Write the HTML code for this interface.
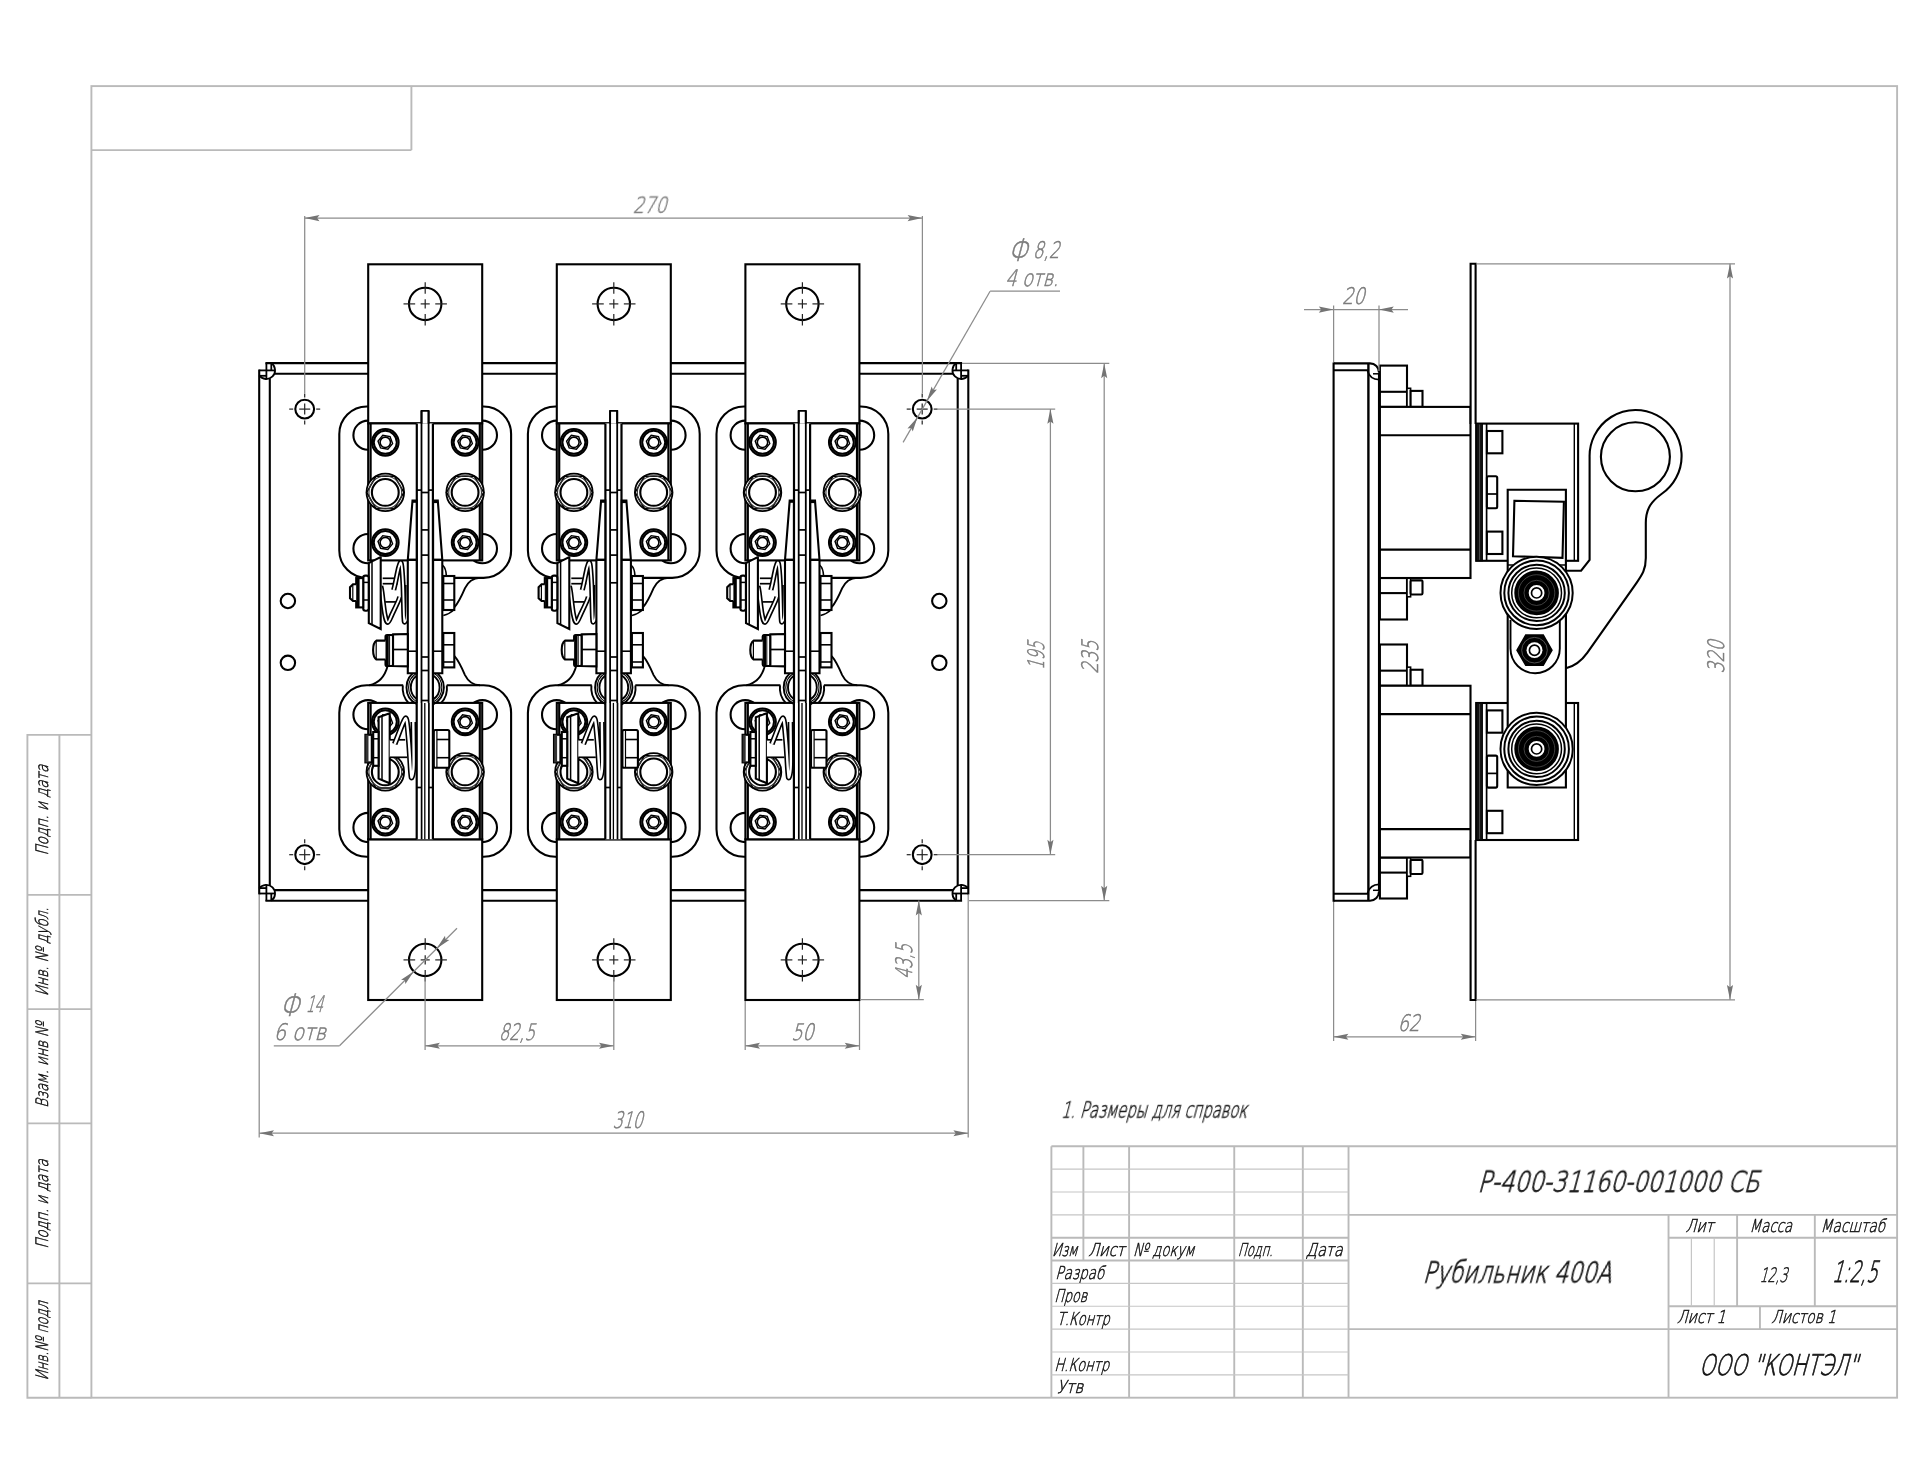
<!DOCTYPE html>
<html lang="ru"><head><meta charset="utf-8"><title>Р-400-31160-001000 СБ</title>
<style>
html,body{margin:0;padding:0;background:#fff;}
body{width:1920px;height:1484px;overflow:hidden;}
svg{display:block;}
svg g.t{will-change:transform;}
svg text{font-family:"DejaVu Sans","Liberation Sans",sans-serif;font-weight:200;white-space:pre;}
</style></head><body>
<svg width="1920" height="1484" viewBox="0 0 1920 1484">
<rect x="0" y="0" width="1920" height="1484" fill="#fff"/>
<g id="frame">
<rect x="91.4" y="86.1" width="1805.7" height="1311.6" rx="0" stroke="#bababa" stroke-width="1.9" fill="none"/>
<line x1="91.4" y1="150.1" x2="411.4" y2="150.1" stroke="#bababa" stroke-width="1.9" />
<line x1="411.4" y1="86.1" x2="411.4" y2="150.1" stroke="#bababa" stroke-width="1.9" />
<path d="M91.4,734.85 H27.4 V1397.7 H91.4" stroke="#bababa" stroke-width="1.9" fill="none" />
<line x1="59.4" y1="734.85" x2="59.4" y2="1397.7" stroke="#bababa" stroke-width="1.9" />
<line x1="27.4" y1="894.85" x2="91.4" y2="894.85" stroke="#bababa" stroke-width="1.9" />
<line x1="27.4" y1="1009.13" x2="91.4" y2="1009.13" stroke="#bababa" stroke-width="1.9" />
<line x1="27.4" y1="1123.42" x2="91.4" y2="1123.42" stroke="#bababa" stroke-width="1.9" />
<line x1="27.4" y1="1283.41" x2="91.4" y2="1283.41" stroke="#bababa" stroke-width="1.9" />
<line x1="1051.39" y1="1146.27" x2="1897.1" y2="1146.27" stroke="#bababa" stroke-width="1.9" />
<line x1="1051.39" y1="1146.27" x2="1051.39" y2="1397.7" stroke="#bababa" stroke-width="1.9" />
<line x1="1083.39" y1="1146.27" x2="1083.39" y2="1260.56" stroke="#bababa" stroke-width="1.9" />
<line x1="1129.1" y1="1146.27" x2="1129.1" y2="1397.7" stroke="#bababa" stroke-width="1.9" />
<line x1="1234.25" y1="1146.27" x2="1234.25" y2="1397.7" stroke="#bababa" stroke-width="1.9" />
<line x1="1302.82" y1="1146.27" x2="1302.82" y2="1397.7" stroke="#bababa" stroke-width="1.9" />
<line x1="1348.53" y1="1146.27" x2="1348.53" y2="1397.7" stroke="#bababa" stroke-width="1.9" />
<line x1="1668.53" y1="1214.84" x2="1668.53" y2="1397.7" stroke="#bababa" stroke-width="1.9" />
<line x1="1051.39" y1="1169.13" x2="1348.53" y2="1169.13" stroke="#c6c6c6" stroke-width="1.2" />
<line x1="1051.39" y1="1191.99" x2="1348.53" y2="1191.99" stroke="#c6c6c6" stroke-width="1.2" />
<line x1="1051.39" y1="1214.84" x2="1348.53" y2="1214.84" stroke="#c6c6c6" stroke-width="1.2" />
<line x1="1051.39" y1="1237.7" x2="1348.53" y2="1237.7" stroke="#bababa" stroke-width="1.9" />
<line x1="1051.39" y1="1260.56" x2="1348.53" y2="1260.56" stroke="#bababa" stroke-width="1.9" />
<line x1="1051.39" y1="1283.42" x2="1348.53" y2="1283.42" stroke="#c6c6c6" stroke-width="1.2" />
<line x1="1051.39" y1="1306.27" x2="1348.53" y2="1306.27" stroke="#c6c6c6" stroke-width="1.2" />
<line x1="1051.39" y1="1329.13" x2="1348.53" y2="1329.13" stroke="#c6c6c6" stroke-width="1.2" />
<line x1="1051.39" y1="1351.99" x2="1348.53" y2="1351.99" stroke="#c6c6c6" stroke-width="1.2" />
<line x1="1051.39" y1="1374.84" x2="1348.53" y2="1374.84" stroke="#c6c6c6" stroke-width="1.2" />
<line x1="1348.53" y1="1214.84" x2="1897.1" y2="1214.84" stroke="#bababa" stroke-width="1.9" />
<line x1="1348.53" y1="1329.13" x2="1897.1" y2="1329.13" stroke="#bababa" stroke-width="1.9" />
<line x1="1668.53" y1="1237.7" x2="1897.1" y2="1237.7" stroke="#bababa" stroke-width="1.9" />
<line x1="1668.53" y1="1306.27" x2="1897.1" y2="1306.27" stroke="#bababa" stroke-width="1.9" />
<line x1="1737.1" y1="1214.84" x2="1737.1" y2="1306.27" stroke="#bababa" stroke-width="1.9" />
<line x1="1814.81" y1="1214.84" x2="1814.81" y2="1306.27" stroke="#bababa" stroke-width="1.9" />
<line x1="1691.39" y1="1237.7" x2="1691.39" y2="1306.27" stroke="#c6c6c6" stroke-width="1.2" />
<line x1="1714.24" y1="1237.7" x2="1714.24" y2="1306.27" stroke="#c6c6c6" stroke-width="1.2" />
<line x1="1759.96" y1="1306.27" x2="1759.96" y2="1329.13" stroke="#bababa" stroke-width="1.9" />
</g>
<g id="tbtext" class="t">
<text transform="translate(1051.96 1255.5) skewX(-15) scale(0.7030 1)" font-size="17.7" fill="#141414" stroke="#141414" stroke-width="0.52">Изм</text>
<text transform="translate(1088.16 1255.5) skewX(-15) scale(0.8197 1)" font-size="17.7" fill="#141414" stroke="#141414" stroke-width="0.52">Лист</text>
<text transform="translate(1133.06 1255.5) skewX(-15) scale(0.7364 1)" font-size="17.7" fill="#141414" stroke="#141414" stroke-width="0.52">№ докум</text>
<text transform="translate(1237.76 1255.5) skewX(-15) scale(0.6565 1)" font-size="17.7" fill="#141414" stroke="#141414" stroke-width="0.52">Подп.</text>
<text transform="translate(1305.76 1255.5) skewX(-15) scale(0.8153 1)" font-size="17.7" fill="#141414" stroke="#141414" stroke-width="0.52">Дата</text>
<text transform="translate(1055.36 1279.1) skewX(-15) scale(0.7580 1)" font-size="17.7" fill="#141414" stroke="#141414" stroke-width="0.52">Разраб</text>
<text transform="translate(1054.26 1302.1) skewX(-15) scale(0.7128 1)" font-size="17.7" fill="#141414" stroke="#141414" stroke-width="0.52">Пров</text>
<text transform="translate(1056.66 1324.7) skewX(-15) scale(0.7378 1)" font-size="17.7" fill="#141414" stroke="#141414" stroke-width="0.52">Т.Контр</text>
<text transform="translate(1054.26 1370.6) skewX(-15) scale(0.7372 1)" font-size="17.7" fill="#141414" stroke="#141414" stroke-width="0.52">Н.Контр</text>
<text transform="translate(1056.66 1392.6) skewX(-15) scale(0.8553 1)" font-size="17.7" fill="#141414" stroke="#141414" stroke-width="0.52">Утв</text>
<text transform="translate(1477.55 1191.9) skewX(-15) scale(0.7844 1)" font-size="29.22" fill="#141414" stroke="#141414" stroke-width="0.82">Р-400-31160-001000 СБ</text>
<text transform="translate(1422.55 1282.6) skewX(-15) scale(0.7592 1)" font-size="29.22" fill="#141414" stroke="#141414" stroke-width="0.82">Рубильник 400А</text>
<text transform="translate(1685.56 1232.1) skewX(-15) scale(0.8017 1)" font-size="17.7" fill="#141414" stroke="#141414" stroke-width="0.52">Лит</text>
<text transform="translate(1749.56 1232.1) skewX(-15) scale(0.7498 1)" font-size="17.7" fill="#141414" stroke="#141414" stroke-width="0.52">Масса</text>
<text transform="translate(1820.56 1232.1) skewX(-15) scale(0.7718 1)" font-size="17.7" fill="#141414" stroke="#141414" stroke-width="0.52">Масштаб</text>
<text transform="translate(1759.4 1281.9) skewX(-15) scale(0.6277 1)" font-size="19.89" fill="#141414" stroke="#141414" stroke-width="0.52">12,3</text>
<text transform="translate(1831.85 1282) skewX(-15) scale(0.6048 1)" font-size="29.22" fill="#141414" stroke="#141414" stroke-width="0.82">1:2,5</text>
<text transform="translate(1677.06 1323.3) skewX(-15) scale(0.7897 1)" font-size="17.7" fill="#141414" stroke="#141414" stroke-width="0.52">Лист 1</text>
<text transform="translate(1771.36 1323.3) skewX(-15) scale(0.7796 1)" font-size="17.7" fill="#141414" stroke="#141414" stroke-width="0.52">Листов 1</text>
<text transform="translate(1699 1374.7) skewX(-15) scale(0.7060 1)" font-size="28.53" fill="#141414" stroke="#141414" stroke-width="0.82">ООО "КОНТЭЛ"</text>
<text transform="translate(1060.94 1117.5) skewX(-15) scale(0.6651 1)" font-size="22.22" fill="#141414" stroke="#141414" stroke-width="0.56">1. Размеры для справок</text>
<text transform="translate(47.7 855.6) rotate(-90) skewX(-15) scale(0.7835 1)" font-size="17.15" fill="#141414" stroke="#141414" stroke-width="0.52">Подп. и дата</text>
<text transform="translate(47.7 996) rotate(-90) skewX(-15) scale(0.7426 1)" font-size="17.15" fill="#141414" stroke="#141414" stroke-width="0.52">Инв. № дубл.</text>
<text transform="translate(47.7 1107.7) rotate(-90) skewX(-15) scale(0.7606 1)" font-size="17.15" fill="#141414" stroke="#141414" stroke-width="0.52">Взам. инв №</text>
<text transform="translate(47.7 1248.7) rotate(-90) skewX(-15) scale(0.7705 1)" font-size="17.15" fill="#141414" stroke="#141414" stroke-width="0.52">Подп. и дата</text>
<text transform="translate(47.7 1380.3) rotate(-90) skewX(-15) scale(0.7197 1)" font-size="17.15" fill="#141414" stroke="#141414" stroke-width="0.52">Инв.№ подл</text>
</g>
<g id="front" stroke-linecap="butt" stroke-linejoin="miter">
<line x1="266.4" y1="363.1" x2="266.4" y2="379.1" stroke="#000" stroke-width="1.8" />
<line x1="271.3" y1="363.1" x2="271.3" y2="370.4" stroke="#000" stroke-width="1.8" />
<line x1="259.2" y1="370.4" x2="275.15" y2="370.4" stroke="#000" stroke-width="1.8" />
<line x1="259.2" y1="375.8" x2="266.4" y2="375.8" stroke="#000" stroke-width="1.8" />
<path d="M271.3,363.1 A8.75,8.75 0 1 1 259.2,375.4" stroke="#000" stroke-width="1.8" fill="none" />
<line x1="266.4" y1="900.8" x2="266.4" y2="884.8" stroke="#000" stroke-width="1.8" />
<line x1="271.3" y1="900.8" x2="271.3" y2="893.5" stroke="#000" stroke-width="1.8" />
<line x1="259.2" y1="893.5" x2="275.15" y2="893.5" stroke="#000" stroke-width="1.8" />
<line x1="259.2" y1="888.1" x2="266.4" y2="888.1" stroke="#000" stroke-width="1.8" />
<path d="M271.3,900.8 A8.75,8.75 0 1 0 259.2,888.5" stroke="#000" stroke-width="1.8" fill="none" />
<line x1="961.1" y1="363.1" x2="961.1" y2="379.1" stroke="#000" stroke-width="1.8" />
<line x1="956.2" y1="363.1" x2="956.2" y2="370.4" stroke="#000" stroke-width="1.8" />
<line x1="968.3" y1="370.4" x2="952.35" y2="370.4" stroke="#000" stroke-width="1.8" />
<line x1="968.3" y1="375.8" x2="961.1" y2="375.8" stroke="#000" stroke-width="1.8" />
<path d="M956.2,363.1 A8.75,8.75 0 1 0 968.3,375.4" stroke="#000" stroke-width="1.8" fill="none" />
<line x1="961.1" y1="900.8" x2="961.1" y2="884.8" stroke="#000" stroke-width="1.8" />
<line x1="956.2" y1="900.8" x2="956.2" y2="893.5" stroke="#000" stroke-width="1.8" />
<line x1="968.3" y1="893.5" x2="952.35" y2="893.5" stroke="#000" stroke-width="1.8" />
<line x1="968.3" y1="888.1" x2="961.1" y2="888.1" stroke="#000" stroke-width="1.8" />
<path d="M956.2,900.8 A8.75,8.75 0 1 1 968.3,888.5" stroke="#000" stroke-width="1.8" fill="none" />
<line x1="265.4" y1="363.1" x2="962.1" y2="363.1" stroke="#000" stroke-width="2.1" />
<line x1="265.4" y1="900.8" x2="962.1" y2="900.8" stroke="#000" stroke-width="2.1" />
<line x1="259.2" y1="369.4" x2="259.2" y2="894.5" stroke="#000" stroke-width="2.1" />
<line x1="968.3" y1="369.4" x2="968.3" y2="894.5" stroke="#000" stroke-width="2.1" />
<line x1="274.5" y1="373.75" x2="953" y2="373.75" stroke="#000" stroke-width="2.1" />
<line x1="274.5" y1="890.15" x2="953" y2="890.15" stroke="#000" stroke-width="2.1" />
<line x1="269.8" y1="378.5" x2="269.8" y2="885.4" stroke="#000" stroke-width="2.1" />
<line x1="957.7" y1="378.5" x2="957.7" y2="885.4" stroke="#000" stroke-width="2.1" />
<circle cx="304.7" cy="409.1" r="9.4" stroke="#000" stroke-width="2.1" fill="none"/>
<line x1="299.2" y1="409.1" x2="310.2" y2="409.1" stroke="#222" stroke-width="1.2" />
<line x1="304.7" y1="403.6" x2="304.7" y2="414.6" stroke="#222" stroke-width="1.2" />
<line x1="289.2" y1="409.1" x2="293.2" y2="409.1" stroke="#222" stroke-width="1.2" />
<line x1="316.2" y1="409.1" x2="320.2" y2="409.1" stroke="#222" stroke-width="1.2" />
<line x1="304.7" y1="393.6" x2="304.7" y2="397.6" stroke="#222" stroke-width="1.2" />
<line x1="304.7" y1="420.6" x2="304.7" y2="424.6" stroke="#222" stroke-width="1.2" />
<circle cx="922.2" cy="409.1" r="9.4" stroke="#000" stroke-width="2.1" fill="none"/>
<line x1="916.7" y1="409.1" x2="927.7" y2="409.1" stroke="#222" stroke-width="1.2" />
<line x1="922.2" y1="403.6" x2="922.2" y2="414.6" stroke="#222" stroke-width="1.2" />
<line x1="906.7" y1="409.1" x2="910.7" y2="409.1" stroke="#222" stroke-width="1.2" />
<line x1="933.7" y1="409.1" x2="937.7" y2="409.1" stroke="#222" stroke-width="1.2" />
<line x1="922.2" y1="393.6" x2="922.2" y2="397.6" stroke="#222" stroke-width="1.2" />
<line x1="922.2" y1="420.6" x2="922.2" y2="424.6" stroke="#222" stroke-width="1.2" />
<circle cx="304.7" cy="854.7" r="9.4" stroke="#000" stroke-width="2.1" fill="none"/>
<line x1="299.2" y1="854.7" x2="310.2" y2="854.7" stroke="#222" stroke-width="1.2" />
<line x1="304.7" y1="849.2" x2="304.7" y2="860.2" stroke="#222" stroke-width="1.2" />
<line x1="289.2" y1="854.7" x2="293.2" y2="854.7" stroke="#222" stroke-width="1.2" />
<line x1="316.2" y1="854.7" x2="320.2" y2="854.7" stroke="#222" stroke-width="1.2" />
<line x1="304.7" y1="839.2" x2="304.7" y2="843.2" stroke="#222" stroke-width="1.2" />
<line x1="304.7" y1="866.2" x2="304.7" y2="870.2" stroke="#222" stroke-width="1.2" />
<circle cx="922.2" cy="854.7" r="9.4" stroke="#000" stroke-width="2.1" fill="none"/>
<line x1="916.7" y1="854.7" x2="927.7" y2="854.7" stroke="#222" stroke-width="1.2" />
<line x1="922.2" y1="849.2" x2="922.2" y2="860.2" stroke="#222" stroke-width="1.2" />
<line x1="906.7" y1="854.7" x2="910.7" y2="854.7" stroke="#222" stroke-width="1.2" />
<line x1="933.7" y1="854.7" x2="937.7" y2="854.7" stroke="#222" stroke-width="1.2" />
<line x1="922.2" y1="839.2" x2="922.2" y2="843.2" stroke="#222" stroke-width="1.2" />
<line x1="922.2" y1="866.2" x2="922.2" y2="870.2" stroke="#222" stroke-width="1.2" />
<circle cx="287.9" cy="601" r="7.2" stroke="#000" stroke-width="2.1" fill="none"/>
<circle cx="287.9" cy="662.8" r="7.2" stroke="#000" stroke-width="2.1" fill="none"/>
<circle cx="939.3" cy="601" r="7.2" stroke="#000" stroke-width="2.1" fill="none"/>
<circle cx="939.3" cy="662.8" r="7.2" stroke="#000" stroke-width="2.1" fill="none"/>
<path d="M367.7,577.9 H366.8 A27.5,27.5 0 0 1 339.3,550.4 V434 A27.5,27.5 0 0 1 366.8,406.5 H483.6 A27.5,27.5 0 0 1 511.1,434 V550.4 A27.5,27.5 0 0 1 483.6,577.9 H454.5" stroke="#000" stroke-width="2.1" fill="none" />
<path d="M480,577.9 C472,578.1 468,582.1 465,588.1 C462,595.1 459,602.1 454.5,607.1" stroke="#000" stroke-width="1.9" fill="none" />
<path d="M403.2,685.3 H366.8 A27.5,27.5 0 0 0 339.3,712.8 V829.2 A27.5,27.5 0 0 0 366.8,856.7 H483.6 A27.5,27.5 0 0 0 511.1,829.2 V712.8 A27.5,27.5 0 0 0 483.6,685.3 H446.7" stroke="#000" stroke-width="2.1" fill="none" />
<path d="M480,685.3 C472,685.1 468,681.1 465,675.1 C462,668.1 459,661.1 454.5,656.1" stroke="#000" stroke-width="1.9" fill="none" />
<path d="M387.7,665.8 C385.2,675.3 379.2,683.3 369.2,685.3" stroke="#000" stroke-width="1.9" fill="none" />
<circle cx="368" cy="435.2" r="14.6" stroke="#000" stroke-width="2.1" fill="none"/>
<circle cx="482.4" cy="435.2" r="14.6" stroke="#000" stroke-width="2.1" fill="none"/>
<circle cx="368" cy="548.6" r="14.6" stroke="#000" stroke-width="2.1" fill="none"/>
<circle cx="482.4" cy="548.6" r="14.6" stroke="#000" stroke-width="2.1" fill="none"/>
<circle cx="368" cy="714.7" r="14.6" stroke="#000" stroke-width="2.1" fill="none"/>
<circle cx="482.4" cy="714.7" r="14.6" stroke="#000" stroke-width="2.1" fill="none"/>
<circle cx="368" cy="827.5" r="14.6" stroke="#000" stroke-width="2.1" fill="none"/>
<circle cx="482.4" cy="827.5" r="14.6" stroke="#000" stroke-width="2.1" fill="none"/>
<rect x="368.2" y="264.3" width="114" height="159.1" rx="0" stroke="#000" stroke-width="2.1" fill="#fff"/>
<rect x="368.2" y="839.3" width="114" height="160.7" rx="0" stroke="#000" stroke-width="2.1" fill="#fff"/>
<rect x="368.2" y="423.4" width="114" height="137" rx="0" stroke="#000" stroke-width="2.1" fill="#fff"/>
<line x1="370.6" y1="423.4" x2="370.6" y2="560.4" stroke="#000" stroke-width="2.2" />
<line x1="479.8" y1="423.4" x2="479.8" y2="560.4" stroke="#000" stroke-width="2.2" />
<rect x="368.2" y="702.9" width="114" height="136.4" rx="0" stroke="#000" stroke-width="2.1" fill="#fff"/>
<line x1="370.6" y1="702.9" x2="370.6" y2="839.3" stroke="#000" stroke-width="2.2" />
<line x1="479.8" y1="702.9" x2="479.8" y2="839.3" stroke="#000" stroke-width="2.2" />
<circle cx="425.2" cy="303.9" r="16.2" stroke="#000" stroke-width="2.1" fill="none"/>
<line x1="420.66" y1="303.9" x2="429.74" y2="303.9" stroke="#222" stroke-width="1.2" />
<line x1="425.2" y1="299.36" x2="425.2" y2="308.44" stroke="#222" stroke-width="1.2" />
<line x1="403.5" y1="303.9" x2="415.16" y2="303.9" stroke="#222" stroke-width="1.2" />
<line x1="435.24" y1="303.9" x2="446.9" y2="303.9" stroke="#222" stroke-width="1.2" />
<line x1="425.2" y1="282.2" x2="425.2" y2="293.86" stroke="#222" stroke-width="1.2" />
<line x1="425.2" y1="313.94" x2="425.2" y2="325.6" stroke="#222" stroke-width="1.2" />
<circle cx="425.2" cy="959.9" r="16.2" stroke="#000" stroke-width="2.1" fill="none"/>
<line x1="420.66" y1="959.9" x2="429.74" y2="959.9" stroke="#222" stroke-width="1.2" />
<line x1="425.2" y1="955.36" x2="425.2" y2="964.44" stroke="#222" stroke-width="1.2" />
<line x1="403.5" y1="959.9" x2="415.16" y2="959.9" stroke="#222" stroke-width="1.2" />
<line x1="435.24" y1="959.9" x2="446.9" y2="959.9" stroke="#222" stroke-width="1.2" />
<line x1="425.2" y1="938.2" x2="425.2" y2="949.86" stroke="#222" stroke-width="1.2" />
<line x1="425.2" y1="969.94" x2="425.2" y2="981.6" stroke="#222" stroke-width="1.2" />
<circle cx="385.3" cy="442.3" r="13.3" stroke="#000" stroke-width="2.1" fill="#fff"/>
<circle cx="385.3" cy="442.3" r="11.5" stroke="#000" stroke-width="2.0" fill="none"/>
<path d="M392.59,443.58 L387.83,449.25 L380.54,447.97 L378.01,441.02 L382.77,435.35 L390.06,436.63 Z" stroke="#000" stroke-width="1.4" fill="none" />
<circle cx="385.3" cy="442.3" r="5.2" stroke="#000" stroke-width="1.6" fill="none"/>
<circle cx="385.3" cy="492.4" r="18.8" stroke="#000" stroke-width="1.8" fill="#fff"/>
<path d="M403.9,492.4 L394.6,508.51 L376,508.51 L366.7,492.4 L376,476.29 L394.6,476.29 Z" stroke="#000" stroke-width="1.5" fill="none" />
<circle cx="385.3" cy="492.4" r="16.4" stroke="#333" stroke-width="1.1" fill="none"/>
<circle cx="385.3" cy="492.4" r="13.4" stroke="#000" stroke-width="2.1" fill="none"/>
<circle cx="385.3" cy="542.6" r="13.3" stroke="#000" stroke-width="2.1" fill="#fff"/>
<circle cx="385.3" cy="542.6" r="11.5" stroke="#000" stroke-width="2.0" fill="none"/>
<path d="M392.59,543.88 L387.83,549.55 L380.54,548.27 L378.01,541.32 L382.77,535.65 L390.06,536.93 Z" stroke="#000" stroke-width="1.4" fill="none" />
<circle cx="385.3" cy="542.6" r="5.2" stroke="#000" stroke-width="1.6" fill="none"/>
<circle cx="465.1" cy="442.3" r="13.3" stroke="#000" stroke-width="2.1" fill="#fff"/>
<circle cx="465.1" cy="442.3" r="11.5" stroke="#000" stroke-width="2.0" fill="none"/>
<path d="M472.39,443.58 L467.63,449.25 L460.34,447.97 L457.81,441.02 L462.57,435.35 L469.86,436.63 Z" stroke="#000" stroke-width="1.4" fill="none" />
<circle cx="465.1" cy="442.3" r="5.2" stroke="#000" stroke-width="1.6" fill="none"/>
<circle cx="465.1" cy="492.4" r="18.8" stroke="#000" stroke-width="1.8" fill="#fff"/>
<path d="M483.7,492.4 L474.4,508.51 L455.8,508.51 L446.5,492.4 L455.8,476.29 L474.4,476.29 Z" stroke="#000" stroke-width="1.5" fill="none" />
<circle cx="465.1" cy="492.4" r="16.4" stroke="#333" stroke-width="1.1" fill="none"/>
<circle cx="465.1" cy="492.4" r="13.4" stroke="#000" stroke-width="2.1" fill="none"/>
<circle cx="465.1" cy="542.6" r="13.3" stroke="#000" stroke-width="2.1" fill="#fff"/>
<circle cx="465.1" cy="542.6" r="11.5" stroke="#000" stroke-width="2.0" fill="none"/>
<path d="M472.39,543.88 L467.63,549.55 L460.34,548.27 L457.81,541.32 L462.57,535.65 L469.86,536.93 Z" stroke="#000" stroke-width="1.4" fill="none" />
<circle cx="465.1" cy="542.6" r="5.2" stroke="#000" stroke-width="1.6" fill="none"/>
<circle cx="385.3" cy="721.8" r="13.3" stroke="#000" stroke-width="2.1" fill="#fff"/>
<circle cx="385.3" cy="721.8" r="11.5" stroke="#000" stroke-width="2.0" fill="none"/>
<path d="M392.59,723.08 L387.83,728.75 L380.54,727.47 L378.01,720.52 L382.77,714.85 L390.06,716.13 Z" stroke="#000" stroke-width="1.4" fill="none" />
<circle cx="385.3" cy="721.8" r="5.2" stroke="#000" stroke-width="1.6" fill="none"/>
<circle cx="385.3" cy="771.9" r="18.8" stroke="#000" stroke-width="1.8" fill="#fff"/>
<path d="M403.9,771.9 L394.6,788.01 L376,788.01 L366.7,771.9 L376,755.79 L394.6,755.79 Z" stroke="#000" stroke-width="1.5" fill="none" />
<circle cx="385.3" cy="771.9" r="16.4" stroke="#333" stroke-width="1.1" fill="none"/>
<circle cx="385.3" cy="771.9" r="13.4" stroke="#000" stroke-width="2.1" fill="none"/>
<circle cx="385.3" cy="822.1" r="13.3" stroke="#000" stroke-width="2.1" fill="#fff"/>
<circle cx="385.3" cy="822.1" r="11.5" stroke="#000" stroke-width="2.0" fill="none"/>
<path d="M392.59,823.38 L387.83,829.05 L380.54,827.77 L378.01,820.82 L382.77,815.15 L390.06,816.43 Z" stroke="#000" stroke-width="1.4" fill="none" />
<circle cx="385.3" cy="822.1" r="5.2" stroke="#000" stroke-width="1.6" fill="none"/>
<circle cx="465.1" cy="721.8" r="13.3" stroke="#000" stroke-width="2.1" fill="#fff"/>
<circle cx="465.1" cy="721.8" r="11.5" stroke="#000" stroke-width="2.0" fill="none"/>
<path d="M472.39,723.08 L467.63,728.75 L460.34,727.47 L457.81,720.52 L462.57,714.85 L469.86,716.13 Z" stroke="#000" stroke-width="1.4" fill="none" />
<circle cx="465.1" cy="721.8" r="5.2" stroke="#000" stroke-width="1.6" fill="none"/>
<circle cx="465.1" cy="771.9" r="18.8" stroke="#000" stroke-width="1.8" fill="#fff"/>
<path d="M483.7,771.9 L474.4,788.01 L455.8,788.01 L446.5,771.9 L455.8,755.79 L474.4,755.79 Z" stroke="#000" stroke-width="1.5" fill="none" />
<circle cx="465.1" cy="771.9" r="16.4" stroke="#333" stroke-width="1.1" fill="none"/>
<circle cx="465.1" cy="771.9" r="13.4" stroke="#000" stroke-width="2.1" fill="none"/>
<circle cx="465.1" cy="822.1" r="13.3" stroke="#000" stroke-width="2.1" fill="#fff"/>
<circle cx="465.1" cy="822.1" r="11.5" stroke="#000" stroke-width="2.0" fill="none"/>
<path d="M472.39,823.38 L467.63,829.05 L460.34,827.77 L457.81,820.82 L462.57,815.15 L469.86,816.43 Z" stroke="#000" stroke-width="1.4" fill="none" />
<circle cx="465.1" cy="822.1" r="5.2" stroke="#000" stroke-width="1.6" fill="none"/>
<g>
<rect x="416.6" y="423.4" width="16.6" height="415.9" rx="0" stroke="#fff" stroke-width="0.01" fill="#fff"/>
<path d="M421.5,423.4 V410.9 H428.6 V423.4" stroke="#000" stroke-width="1.9" fill="#fff" />
<line x1="416.8" y1="423.4" x2="416.8" y2="702.9" stroke="#000" stroke-width="2.2" />
<line x1="421.5" y1="411" x2="421.5" y2="702.9" stroke="#000" stroke-width="1.8" />
<line x1="428.6" y1="411" x2="428.6" y2="702.9" stroke="#000" stroke-width="1.8" />
<line x1="432.9" y1="423.4" x2="432.9" y2="702.9" stroke="#000" stroke-width="2.2" />
<line x1="416.7" y1="702.9" x2="416.7" y2="839.3" stroke="#000" stroke-width="2.2" />
<line x1="421.6" y1="702.9" x2="421.6" y2="839.3" stroke="#000" stroke-width="1.7" />
<line x1="424.8" y1="702.9" x2="424.8" y2="839.3" stroke="#000" stroke-width="1.3" />
<line x1="428.9" y1="702.9" x2="428.9" y2="839.3" stroke="#000" stroke-width="1.7" />
<line x1="432.9" y1="702.9" x2="432.9" y2="839.3" stroke="#000" stroke-width="2.2" />
<line x1="416.8" y1="490.1" x2="421.5" y2="490.1" stroke="#000" stroke-width="1.7" />
<line x1="428.6" y1="490.1" x2="432.9" y2="490.1" stroke="#000" stroke-width="1.7" />
<line x1="421.5" y1="492.5" x2="428.6" y2="492.5" stroke="#000" stroke-width="1.7" />
<line x1="421.5" y1="529.9" x2="428.6" y2="529.9" stroke="#000" stroke-width="1.7" />
<line x1="421.5" y1="555.1" x2="428.6" y2="555.1" stroke="#000" stroke-width="1.7" />
<line x1="421.5" y1="582.8" x2="428.6" y2="582.8" stroke="#000" stroke-width="1.7" />
<line x1="421.5" y1="657" x2="428.6" y2="657" stroke="#000" stroke-width="1.7" />
<line x1="421.5" y1="670.5" x2="428.6" y2="670.5" stroke="#000" stroke-width="1.7" />
<line x1="421.5" y1="700.5" x2="428.6" y2="700.5" stroke="#000" stroke-width="1.7" />
<line x1="416.7" y1="787.5" x2="421.6" y2="787.5" stroke="#000" stroke-width="1.7" />
<line x1="428.9" y1="787.5" x2="432.9" y2="787.5" stroke="#000" stroke-width="1.7" />
<path d="M416.6,670.79 A18.7,18.7 0 0 0 416.6,704.01" stroke="#000" stroke-width="1.9" fill="none" />
<path d="M433.2,670.5 A18.7,18.7 0 0 1 433.2,704.3" stroke="#000" stroke-width="1.9" fill="none" />
<path d="M416.6,673.2 A16.6,16.6 0 0 0 416.6,701.6" stroke="#000" stroke-width="1.1" fill="none" />
<path d="M433.2,672.85 A16.6,16.6 0 0 1 433.2,701.95" stroke="#000" stroke-width="1.1" fill="none" />
<path d="M416.6,675.85 A14.4,14.4 0 0 0 416.6,698.95" stroke="#000" stroke-width="1.9" fill="none" />
<path d="M433.2,675.43 A14.4,14.4 0 0 1 433.2,699.37" stroke="#000" stroke-width="1.9" fill="none" />
<path d="M402.8,685.3 A22.5,22.5 0 0 0 408.5,702.9" stroke="#000" stroke-width="1.9" fill="none" />
<path d="M446.8,685.3 A22.0,22.0 0 0 1 441.2,702.9" stroke="#000" stroke-width="1.9" fill="none" />
<path d="M442.4,565 C444.7,567 446.2,571 446.4,576" stroke="#000" stroke-width="1.6" fill="none" />
<path d="M443.3,615.5 C447.2,614.5 451.2,612.5 454.3,609.5" stroke="#000" stroke-width="1.6" fill="none" />
<rect x="443.3" y="576" width="11" height="34" rx="0" stroke="#000" stroke-width="2.1" fill="#fff"/>
<line x1="443.3" y1="583.5" x2="454.3" y2="583.5" stroke="#000" stroke-width="1.6" />
<line x1="443.3" y1="600" x2="454.3" y2="600" stroke="#000" stroke-width="1.6" />
<line x1="382.7" y1="578.3" x2="394.2" y2="578.3" stroke="#000" stroke-width="1.7" />
<line x1="382.7" y1="583.7" x2="397.7" y2="583.7" stroke="#000" stroke-width="1.7" />
<line x1="385.2" y1="601.9" x2="398.2" y2="601.9" stroke="#000" stroke-width="1.7" />
<path d="M380.7,586 C380.9,587 381.22,587.33 381.9,592 C382.58,596.67 383.82,608.93 384.8,614 C385.78,619.07 386.57,622.4 387.8,622.4 C389.03,622.4 390.47,617.53 392.2,614 C393.93,610.47 396.95,604.03 398.2,601.2 C399.45,598.37 399.45,597.7 399.7,597" stroke="#000" stroke-width="5.2" fill="none" stroke-linecap="butt" stroke-linejoin="round"/>
<path d="M380.7,586 C380.9,587 381.22,587.33 381.9,592 C382.58,596.67 383.82,608.93 384.8,614 C385.78,619.07 386.57,622.4 387.8,622.4 C389.03,622.4 390.47,617.53 392.2,614 C393.93,610.47 396.95,604.03 398.2,601.2 C399.45,598.37 399.45,597.7 399.7,597" stroke="#fff" stroke-width="1.9" fill="none" stroke-linecap="butt" stroke-linejoin="round"/>
<path d="M393.7,590 C393.95,588.95 394.33,587.57 395.2,583.7 C396.07,579.83 397.88,570.12 398.9,566.8 C399.92,563.48 400.62,560.98 401.3,563.8 C401.98,566.62 402.55,574.77 403,583.7 C403.45,592.63 403.67,611.08 404,617.4 C404.33,623.72 404.5,622 405,621.6 C405.5,621.2 406.57,621.1 407,615 C407.43,608.9 407.5,590 407.6,585" stroke="#000" stroke-width="5.2" fill="none" stroke-linecap="butt" stroke-linejoin="round"/>
<path d="M393.7,590 C393.95,588.95 394.33,587.57 395.2,583.7 C396.07,579.83 397.88,570.12 398.9,566.8 C399.92,563.48 400.62,560.98 401.3,563.8 C401.98,566.62 402.55,574.77 403,583.7 C403.45,592.63 403.67,611.08 404,617.4 C404.33,623.72 404.5,622 405,621.6 C405.5,621.2 406.57,621.1 407,615 C407.43,608.9 407.5,590 407.6,585" stroke="#fff" stroke-width="1.9" fill="none" stroke-linecap="butt" stroke-linejoin="round"/>
<path d="M368.8,563.2 L371.5,561.6 L380.2,557.4 L380.7,557.4 L380.7,629 L368.8,623.1 Z" stroke="#000" stroke-width="2.1" fill="#fff" />
<line x1="372" y1="561.4" x2="372" y2="624.6" stroke="#000" stroke-width="1.5" />
<rect x="363.2" y="575.6" width="5.5" height="35.1" rx="2.2" stroke="#000" stroke-width="2.1" fill="#fff"/>
<line x1="363.2" y1="582.4" x2="368.7" y2="582.4" stroke="#000" stroke-width="1.5" />
<line x1="363.2" y1="600" x2="368.7" y2="600" stroke="#000" stroke-width="1.5" />
<rect x="356.2" y="578.1" width="7" height="29.3" rx="0" stroke="#000" stroke-width="2.1" fill="#fff"/>
<line x1="358.2" y1="578.1" x2="358.2" y2="607.4" stroke="#000" stroke-width="2.8" />
<path d="M356.2,584.3 L353,584.3 L350,587.2 L350,598.2 L353,601 L356.2,601" stroke="#000" stroke-width="2.1" fill="#fff" />
<line x1="352.8" y1="585" x2="352.8" y2="600.4" stroke="#000" stroke-width="1.2" />
<path d="M412.5,500.5 L407.8,560 L407.8,673.2 L416.7,673.2 L416.7,500.5 Z" stroke="#000" stroke-width="2.1" fill="#fff" />
<path d="M437.8,500.5 L442.3,560 L442.3,673.2 L433.1,673.2 L433.1,500.5 Z" stroke="#000" stroke-width="2.1" fill="#fff" />
<line x1="412.5" y1="501.6" x2="416.7" y2="501.6" stroke="#000" stroke-width="2.4" />
<line x1="433.1" y1="501.9" x2="437.8" y2="501.9" stroke="#000" stroke-width="2.4" />
<line x1="407.8" y1="559.8" x2="416.7" y2="559.8" stroke="#000" stroke-width="2.4" />
<line x1="433.1" y1="559.8" x2="442.3" y2="559.8" stroke="#000" stroke-width="2.4" />
<line x1="407.8" y1="651.2" x2="416.7" y2="651.2" stroke="#000" stroke-width="1.6" />
<line x1="433.1" y1="651.2" x2="442.3" y2="651.2" stroke="#000" stroke-width="1.6" />
<rect x="443.3" y="633" width="11" height="34.4" rx="0" stroke="#000" stroke-width="2.1" fill="#fff"/>
<line x1="443.3" y1="644.8" x2="454.3" y2="644.8" stroke="#000" stroke-width="1.6" />
<line x1="443.3" y1="662" x2="454.3" y2="662" stroke="#000" stroke-width="1.6" />
<path d="M393,634.4 L407.8,634 L407.8,666.4 L393,666 Z" stroke="#000" stroke-width="2.1" fill="#fff" />
<line x1="393" y1="649.5" x2="407.8" y2="649.5" stroke="#000" stroke-width="1.7" />
<rect x="385.5" y="635" width="7.5" height="31" rx="1.5" stroke="#000" stroke-width="2.1" fill="#fff"/>
<line x1="387.4" y1="635" x2="387.4" y2="666" stroke="#000" stroke-width="2.8" />
<line x1="389.6" y1="635" x2="389.6" y2="666" stroke="#000" stroke-width="1.0" />
<path d="M385.5,640.6 H376.5 Q373.1,642.8 373.1,650 Q373.1,657.3 376.5,659.5 H385.5" stroke="#000" stroke-width="2.1" fill="#fff" />
<line x1="376.2" y1="641.4" x2="376.2" y2="658.8" stroke="#000" stroke-width="1.2" />
<path d="M378.6,717.2 L389.7,713.2 L389.7,783.3 L378.6,778.6 Z" stroke="#000" stroke-width="2.1" fill="#fff" />
<line x1="382" y1="716.2" x2="382" y2="780" stroke="#000" stroke-width="1.5" />
<rect x="373.2" y="732" width="5.4" height="33.8" rx="0" stroke="#000" stroke-width="2.1" fill="#fff"/>
<line x1="373.2" y1="738.8" x2="378.6" y2="738.8" stroke="#000" stroke-width="1.5" />
<line x1="373.2" y1="757.7" x2="378.6" y2="757.7" stroke="#000" stroke-width="1.5" />
<rect x="365.4" y="734.8" width="6.4" height="27.6" rx="0" stroke="#000" stroke-width="2.1" fill="#fff"/>
<line x1="367" y1="734.8" x2="367" y2="762.4" stroke="#333" stroke-width="3.0" />
<rect x="389.7" y="739.8" width="19.5" height="17.5" rx="0" stroke="#fff" stroke-width="0.01" fill="#fff"/>
<line x1="389.7" y1="739.8" x2="405.2" y2="739.8" stroke="#000" stroke-width="1.7" />
<line x1="389.7" y1="757.3" x2="407.2" y2="757.3" stroke="#000" stroke-width="1.7" />
<path d="M394.7,744 C395.05,743.13 395.33,742.47 396.8,738.8 C398.27,735.13 401.88,725.15 403.5,722 C405.12,718.85 405.6,716.53 406.5,719.9 C407.4,723.27 408.17,733.43 408.9,742.2 C409.63,750.97 410.4,766.72 410.9,772.5 C411.4,778.28 411.45,778.15 411.9,776.9 C412.35,775.65 413.37,774.15 413.6,765 C413.83,755.85 413.35,729.17 413.3,722" stroke="#000" stroke-width="5.6" fill="none" stroke-linecap="butt" stroke-linejoin="round"/>
<path d="M394.7,744 C395.05,743.13 395.33,742.47 396.8,738.8 C398.27,735.13 401.88,725.15 403.5,722 C405.12,718.85 405.6,716.53 406.5,719.9 C407.4,723.27 408.17,733.43 408.9,742.2 C409.63,750.97 410.4,766.72 410.9,772.5 C411.4,778.28 411.45,778.15 411.9,776.9 C412.35,775.65 413.37,774.15 413.6,765 C413.83,755.85 413.35,729.17 413.3,722" stroke="#fff" stroke-width="2.4" fill="none" stroke-linecap="butt" stroke-linejoin="round"/>
<rect x="433.8" y="730" width="15.5" height="37.8" rx="1.5" stroke="#000" stroke-width="2.1" fill="#fff"/>
<line x1="436.9" y1="730" x2="436.9" y2="767.8" stroke="#000" stroke-width="1.2" />
<line x1="436.9" y1="739.5" x2="449.3" y2="739.5" stroke="#000" stroke-width="1.6" />
<line x1="436.9" y1="757.7" x2="449.3" y2="757.7" stroke="#000" stroke-width="1.6" />
</g>
<path d="M556.3,577.9 H555.4 A27.5,27.5 0 0 1 527.9,550.4 V434 A27.5,27.5 0 0 1 555.4,406.5 H672.2 A27.5,27.5 0 0 1 699.7,434 V550.4 A27.5,27.5 0 0 1 672.2,577.9 H643.1" stroke="#000" stroke-width="2.1" fill="none" />
<path d="M668.6,577.9 C660.6,578.1 656.6,582.1 653.6,588.1 C650.6,595.1 647.6,602.1 643.1,607.1" stroke="#000" stroke-width="1.9" fill="none" />
<path d="M591.8,685.3 H555.4 A27.5,27.5 0 0 0 527.9,712.8 V829.2 A27.5,27.5 0 0 0 555.4,856.7 H672.2 A27.5,27.5 0 0 0 699.7,829.2 V712.8 A27.5,27.5 0 0 0 672.2,685.3 H635.3" stroke="#000" stroke-width="2.1" fill="none" />
<path d="M668.6,685.3 C660.6,685.1 656.6,681.1 653.6,675.1 C650.6,668.1 647.6,661.1 643.1,656.1" stroke="#000" stroke-width="1.9" fill="none" />
<path d="M576.3,665.8 C573.8,675.3 567.8,683.3 557.8,685.3" stroke="#000" stroke-width="1.9" fill="none" />
<circle cx="556.6" cy="435.2" r="14.6" stroke="#000" stroke-width="2.1" fill="none"/>
<circle cx="671" cy="435.2" r="14.6" stroke="#000" stroke-width="2.1" fill="none"/>
<circle cx="556.6" cy="548.6" r="14.6" stroke="#000" stroke-width="2.1" fill="none"/>
<circle cx="671" cy="548.6" r="14.6" stroke="#000" stroke-width="2.1" fill="none"/>
<circle cx="556.6" cy="714.7" r="14.6" stroke="#000" stroke-width="2.1" fill="none"/>
<circle cx="671" cy="714.7" r="14.6" stroke="#000" stroke-width="2.1" fill="none"/>
<circle cx="556.6" cy="827.5" r="14.6" stroke="#000" stroke-width="2.1" fill="none"/>
<circle cx="671" cy="827.5" r="14.6" stroke="#000" stroke-width="2.1" fill="none"/>
<rect x="556.8" y="264.3" width="114" height="159.1" rx="0" stroke="#000" stroke-width="2.1" fill="#fff"/>
<rect x="556.8" y="839.3" width="114" height="160.7" rx="0" stroke="#000" stroke-width="2.1" fill="#fff"/>
<rect x="556.8" y="423.4" width="114" height="137" rx="0" stroke="#000" stroke-width="2.1" fill="#fff"/>
<line x1="559.2" y1="423.4" x2="559.2" y2="560.4" stroke="#000" stroke-width="2.2" />
<line x1="668.4" y1="423.4" x2="668.4" y2="560.4" stroke="#000" stroke-width="2.2" />
<rect x="556.8" y="702.9" width="114" height="136.4" rx="0" stroke="#000" stroke-width="2.1" fill="#fff"/>
<line x1="559.2" y1="702.9" x2="559.2" y2="839.3" stroke="#000" stroke-width="2.2" />
<line x1="668.4" y1="702.9" x2="668.4" y2="839.3" stroke="#000" stroke-width="2.2" />
<circle cx="613.8" cy="303.9" r="16.2" stroke="#000" stroke-width="2.1" fill="none"/>
<line x1="609.26" y1="303.9" x2="618.34" y2="303.9" stroke="#222" stroke-width="1.2" />
<line x1="613.8" y1="299.36" x2="613.8" y2="308.44" stroke="#222" stroke-width="1.2" />
<line x1="592.1" y1="303.9" x2="603.76" y2="303.9" stroke="#222" stroke-width="1.2" />
<line x1="623.84" y1="303.9" x2="635.5" y2="303.9" stroke="#222" stroke-width="1.2" />
<line x1="613.8" y1="282.2" x2="613.8" y2="293.86" stroke="#222" stroke-width="1.2" />
<line x1="613.8" y1="313.94" x2="613.8" y2="325.6" stroke="#222" stroke-width="1.2" />
<circle cx="613.8" cy="959.9" r="16.2" stroke="#000" stroke-width="2.1" fill="none"/>
<line x1="609.26" y1="959.9" x2="618.34" y2="959.9" stroke="#222" stroke-width="1.2" />
<line x1="613.8" y1="955.36" x2="613.8" y2="964.44" stroke="#222" stroke-width="1.2" />
<line x1="592.1" y1="959.9" x2="603.76" y2="959.9" stroke="#222" stroke-width="1.2" />
<line x1="623.84" y1="959.9" x2="635.5" y2="959.9" stroke="#222" stroke-width="1.2" />
<line x1="613.8" y1="938.2" x2="613.8" y2="949.86" stroke="#222" stroke-width="1.2" />
<line x1="613.8" y1="969.94" x2="613.8" y2="981.6" stroke="#222" stroke-width="1.2" />
<circle cx="573.9" cy="442.3" r="13.3" stroke="#000" stroke-width="2.1" fill="#fff"/>
<circle cx="573.9" cy="442.3" r="11.5" stroke="#000" stroke-width="2.0" fill="none"/>
<path d="M581.19,443.58 L576.43,449.25 L569.14,447.97 L566.61,441.02 L571.37,435.35 L578.66,436.63 Z" stroke="#000" stroke-width="1.4" fill="none" />
<circle cx="573.9" cy="442.3" r="5.2" stroke="#000" stroke-width="1.6" fill="none"/>
<circle cx="573.9" cy="492.4" r="18.8" stroke="#000" stroke-width="1.8" fill="#fff"/>
<path d="M592.5,492.4 L583.2,508.51 L564.6,508.51 L555.3,492.4 L564.6,476.29 L583.2,476.29 Z" stroke="#000" stroke-width="1.5" fill="none" />
<circle cx="573.9" cy="492.4" r="16.4" stroke="#333" stroke-width="1.1" fill="none"/>
<circle cx="573.9" cy="492.4" r="13.4" stroke="#000" stroke-width="2.1" fill="none"/>
<circle cx="573.9" cy="542.6" r="13.3" stroke="#000" stroke-width="2.1" fill="#fff"/>
<circle cx="573.9" cy="542.6" r="11.5" stroke="#000" stroke-width="2.0" fill="none"/>
<path d="M581.19,543.88 L576.43,549.55 L569.14,548.27 L566.61,541.32 L571.37,535.65 L578.66,536.93 Z" stroke="#000" stroke-width="1.4" fill="none" />
<circle cx="573.9" cy="542.6" r="5.2" stroke="#000" stroke-width="1.6" fill="none"/>
<circle cx="653.7" cy="442.3" r="13.3" stroke="#000" stroke-width="2.1" fill="#fff"/>
<circle cx="653.7" cy="442.3" r="11.5" stroke="#000" stroke-width="2.0" fill="none"/>
<path d="M660.99,443.58 L656.23,449.25 L648.94,447.97 L646.41,441.02 L651.17,435.35 L658.46,436.63 Z" stroke="#000" stroke-width="1.4" fill="none" />
<circle cx="653.7" cy="442.3" r="5.2" stroke="#000" stroke-width="1.6" fill="none"/>
<circle cx="653.7" cy="492.4" r="18.8" stroke="#000" stroke-width="1.8" fill="#fff"/>
<path d="M672.3,492.4 L663,508.51 L644.4,508.51 L635.1,492.4 L644.4,476.29 L663,476.29 Z" stroke="#000" stroke-width="1.5" fill="none" />
<circle cx="653.7" cy="492.4" r="16.4" stroke="#333" stroke-width="1.1" fill="none"/>
<circle cx="653.7" cy="492.4" r="13.4" stroke="#000" stroke-width="2.1" fill="none"/>
<circle cx="653.7" cy="542.6" r="13.3" stroke="#000" stroke-width="2.1" fill="#fff"/>
<circle cx="653.7" cy="542.6" r="11.5" stroke="#000" stroke-width="2.0" fill="none"/>
<path d="M660.99,543.88 L656.23,549.55 L648.94,548.27 L646.41,541.32 L651.17,535.65 L658.46,536.93 Z" stroke="#000" stroke-width="1.4" fill="none" />
<circle cx="653.7" cy="542.6" r="5.2" stroke="#000" stroke-width="1.6" fill="none"/>
<circle cx="573.9" cy="721.8" r="13.3" stroke="#000" stroke-width="2.1" fill="#fff"/>
<circle cx="573.9" cy="721.8" r="11.5" stroke="#000" stroke-width="2.0" fill="none"/>
<path d="M581.19,723.08 L576.43,728.75 L569.14,727.47 L566.61,720.52 L571.37,714.85 L578.66,716.13 Z" stroke="#000" stroke-width="1.4" fill="none" />
<circle cx="573.9" cy="721.8" r="5.2" stroke="#000" stroke-width="1.6" fill="none"/>
<circle cx="573.9" cy="771.9" r="18.8" stroke="#000" stroke-width="1.8" fill="#fff"/>
<path d="M592.5,771.9 L583.2,788.01 L564.6,788.01 L555.3,771.9 L564.6,755.79 L583.2,755.79 Z" stroke="#000" stroke-width="1.5" fill="none" />
<circle cx="573.9" cy="771.9" r="16.4" stroke="#333" stroke-width="1.1" fill="none"/>
<circle cx="573.9" cy="771.9" r="13.4" stroke="#000" stroke-width="2.1" fill="none"/>
<circle cx="573.9" cy="822.1" r="13.3" stroke="#000" stroke-width="2.1" fill="#fff"/>
<circle cx="573.9" cy="822.1" r="11.5" stroke="#000" stroke-width="2.0" fill="none"/>
<path d="M581.19,823.38 L576.43,829.05 L569.14,827.77 L566.61,820.82 L571.37,815.15 L578.66,816.43 Z" stroke="#000" stroke-width="1.4" fill="none" />
<circle cx="573.9" cy="822.1" r="5.2" stroke="#000" stroke-width="1.6" fill="none"/>
<circle cx="653.7" cy="721.8" r="13.3" stroke="#000" stroke-width="2.1" fill="#fff"/>
<circle cx="653.7" cy="721.8" r="11.5" stroke="#000" stroke-width="2.0" fill="none"/>
<path d="M660.99,723.08 L656.23,728.75 L648.94,727.47 L646.41,720.52 L651.17,714.85 L658.46,716.13 Z" stroke="#000" stroke-width="1.4" fill="none" />
<circle cx="653.7" cy="721.8" r="5.2" stroke="#000" stroke-width="1.6" fill="none"/>
<circle cx="653.7" cy="771.9" r="18.8" stroke="#000" stroke-width="1.8" fill="#fff"/>
<path d="M672.3,771.9 L663,788.01 L644.4,788.01 L635.1,771.9 L644.4,755.79 L663,755.79 Z" stroke="#000" stroke-width="1.5" fill="none" />
<circle cx="653.7" cy="771.9" r="16.4" stroke="#333" stroke-width="1.1" fill="none"/>
<circle cx="653.7" cy="771.9" r="13.4" stroke="#000" stroke-width="2.1" fill="none"/>
<circle cx="653.7" cy="822.1" r="13.3" stroke="#000" stroke-width="2.1" fill="#fff"/>
<circle cx="653.7" cy="822.1" r="11.5" stroke="#000" stroke-width="2.0" fill="none"/>
<path d="M660.99,823.38 L656.23,829.05 L648.94,827.77 L646.41,820.82 L651.17,815.15 L658.46,816.43 Z" stroke="#000" stroke-width="1.4" fill="none" />
<circle cx="653.7" cy="822.1" r="5.2" stroke="#000" stroke-width="1.6" fill="none"/>
<g>
<rect x="605.2" y="423.4" width="16.6" height="415.9" rx="0" stroke="#fff" stroke-width="0.01" fill="#fff"/>
<path d="M610.1,423.4 V410.9 H617.2 V423.4" stroke="#000" stroke-width="1.9" fill="#fff" />
<line x1="605.4" y1="423.4" x2="605.4" y2="702.9" stroke="#000" stroke-width="2.2" />
<line x1="610.1" y1="411" x2="610.1" y2="702.9" stroke="#000" stroke-width="1.8" />
<line x1="617.2" y1="411" x2="617.2" y2="702.9" stroke="#000" stroke-width="1.8" />
<line x1="621.5" y1="423.4" x2="621.5" y2="702.9" stroke="#000" stroke-width="2.2" />
<line x1="605.3" y1="702.9" x2="605.3" y2="839.3" stroke="#000" stroke-width="2.2" />
<line x1="610.2" y1="702.9" x2="610.2" y2="839.3" stroke="#000" stroke-width="1.7" />
<line x1="613.4" y1="702.9" x2="613.4" y2="839.3" stroke="#000" stroke-width="1.3" />
<line x1="617.5" y1="702.9" x2="617.5" y2="839.3" stroke="#000" stroke-width="1.7" />
<line x1="621.5" y1="702.9" x2="621.5" y2="839.3" stroke="#000" stroke-width="2.2" />
<line x1="605.4" y1="490.1" x2="610.1" y2="490.1" stroke="#000" stroke-width="1.7" />
<line x1="617.2" y1="490.1" x2="621.5" y2="490.1" stroke="#000" stroke-width="1.7" />
<line x1="610.1" y1="492.5" x2="617.2" y2="492.5" stroke="#000" stroke-width="1.7" />
<line x1="610.1" y1="529.9" x2="617.2" y2="529.9" stroke="#000" stroke-width="1.7" />
<line x1="610.1" y1="555.1" x2="617.2" y2="555.1" stroke="#000" stroke-width="1.7" />
<line x1="610.1" y1="582.8" x2="617.2" y2="582.8" stroke="#000" stroke-width="1.7" />
<line x1="610.1" y1="657" x2="617.2" y2="657" stroke="#000" stroke-width="1.7" />
<line x1="610.1" y1="670.5" x2="617.2" y2="670.5" stroke="#000" stroke-width="1.7" />
<line x1="610.1" y1="700.5" x2="617.2" y2="700.5" stroke="#000" stroke-width="1.7" />
<line x1="605.3" y1="787.5" x2="610.2" y2="787.5" stroke="#000" stroke-width="1.7" />
<line x1="617.5" y1="787.5" x2="621.5" y2="787.5" stroke="#000" stroke-width="1.7" />
<path d="M605.2,670.79 A18.7,18.7 0 0 0 605.2,704.01" stroke="#000" stroke-width="1.9" fill="none" />
<path d="M621.8,670.5 A18.7,18.7 0 0 1 621.8,704.3" stroke="#000" stroke-width="1.9" fill="none" />
<path d="M605.2,673.2 A16.6,16.6 0 0 0 605.2,701.6" stroke="#000" stroke-width="1.1" fill="none" />
<path d="M621.8,672.85 A16.6,16.6 0 0 1 621.8,701.95" stroke="#000" stroke-width="1.1" fill="none" />
<path d="M605.2,675.85 A14.4,14.4 0 0 0 605.2,698.95" stroke="#000" stroke-width="1.9" fill="none" />
<path d="M621.8,675.43 A14.4,14.4 0 0 1 621.8,699.37" stroke="#000" stroke-width="1.9" fill="none" />
<path d="M591.4,685.3 A22.5,22.5 0 0 0 597.1,702.9" stroke="#000" stroke-width="1.9" fill="none" />
<path d="M635.4,685.3 A22.0,22.0 0 0 1 629.8,702.9" stroke="#000" stroke-width="1.9" fill="none" />
<path d="M631,565 C633.3,567 634.8,571 635,576" stroke="#000" stroke-width="1.6" fill="none" />
<path d="M631.9,615.5 C635.8,614.5 639.8,612.5 642.9,609.5" stroke="#000" stroke-width="1.6" fill="none" />
<rect x="631.9" y="576" width="11" height="34" rx="0" stroke="#000" stroke-width="2.1" fill="#fff"/>
<line x1="631.9" y1="583.5" x2="642.9" y2="583.5" stroke="#000" stroke-width="1.6" />
<line x1="631.9" y1="600" x2="642.9" y2="600" stroke="#000" stroke-width="1.6" />
<line x1="571.3" y1="578.3" x2="582.8" y2="578.3" stroke="#000" stroke-width="1.7" />
<line x1="571.3" y1="583.7" x2="586.3" y2="583.7" stroke="#000" stroke-width="1.7" />
<line x1="573.8" y1="601.9" x2="586.8" y2="601.9" stroke="#000" stroke-width="1.7" />
<path d="M569.3,586 C569.5,587 569.82,587.33 570.5,592 C571.18,596.67 572.42,608.93 573.4,614 C574.38,619.07 575.17,622.4 576.4,622.4 C577.63,622.4 579.07,617.53 580.8,614 C582.53,610.47 585.55,604.03 586.8,601.2 C588.05,598.37 588.05,597.7 588.3,597" stroke="#000" stroke-width="5.2" fill="none" stroke-linecap="butt" stroke-linejoin="round"/>
<path d="M569.3,586 C569.5,587 569.82,587.33 570.5,592 C571.18,596.67 572.42,608.93 573.4,614 C574.38,619.07 575.17,622.4 576.4,622.4 C577.63,622.4 579.07,617.53 580.8,614 C582.53,610.47 585.55,604.03 586.8,601.2 C588.05,598.37 588.05,597.7 588.3,597" stroke="#fff" stroke-width="1.9" fill="none" stroke-linecap="butt" stroke-linejoin="round"/>
<path d="M582.3,590 C582.55,588.95 582.93,587.57 583.8,583.7 C584.67,579.83 586.48,570.12 587.5,566.8 C588.52,563.48 589.22,560.98 589.9,563.8 C590.58,566.62 591.15,574.77 591.6,583.7 C592.05,592.63 592.27,611.08 592.6,617.4 C592.93,623.72 593.1,622 593.6,621.6 C594.1,621.2 595.17,621.1 595.6,615 C596.03,608.9 596.1,590 596.2,585" stroke="#000" stroke-width="5.2" fill="none" stroke-linecap="butt" stroke-linejoin="round"/>
<path d="M582.3,590 C582.55,588.95 582.93,587.57 583.8,583.7 C584.67,579.83 586.48,570.12 587.5,566.8 C588.52,563.48 589.22,560.98 589.9,563.8 C590.58,566.62 591.15,574.77 591.6,583.7 C592.05,592.63 592.27,611.08 592.6,617.4 C592.93,623.72 593.1,622 593.6,621.6 C594.1,621.2 595.17,621.1 595.6,615 C596.03,608.9 596.1,590 596.2,585" stroke="#fff" stroke-width="1.9" fill="none" stroke-linecap="butt" stroke-linejoin="round"/>
<path d="M557.4,563.2 L560.1,561.6 L568.8,557.4 L569.3,557.4 L569.3,629 L557.4,623.1 Z" stroke="#000" stroke-width="2.1" fill="#fff" />
<line x1="560.6" y1="561.4" x2="560.6" y2="624.6" stroke="#000" stroke-width="1.5" />
<rect x="551.8" y="575.6" width="5.5" height="35.1" rx="2.2" stroke="#000" stroke-width="2.1" fill="#fff"/>
<line x1="551.8" y1="582.4" x2="557.3" y2="582.4" stroke="#000" stroke-width="1.5" />
<line x1="551.8" y1="600" x2="557.3" y2="600" stroke="#000" stroke-width="1.5" />
<rect x="544.8" y="578.1" width="7" height="29.3" rx="0" stroke="#000" stroke-width="2.1" fill="#fff"/>
<line x1="546.8" y1="578.1" x2="546.8" y2="607.4" stroke="#000" stroke-width="2.8" />
<path d="M544.8,584.3 L541.6,584.3 L538.6,587.2 L538.6,598.2 L541.6,601 L544.8,601" stroke="#000" stroke-width="2.1" fill="#fff" />
<line x1="541.4" y1="585" x2="541.4" y2="600.4" stroke="#000" stroke-width="1.2" />
<path d="M601.1,500.5 L596.4,560 L596.4,673.2 L605.3,673.2 L605.3,500.5 Z" stroke="#000" stroke-width="2.1" fill="#fff" />
<path d="M626.4,500.5 L630.9,560 L630.9,673.2 L621.7,673.2 L621.7,500.5 Z" stroke="#000" stroke-width="2.1" fill="#fff" />
<line x1="601.1" y1="501.6" x2="605.3" y2="501.6" stroke="#000" stroke-width="2.4" />
<line x1="621.7" y1="501.9" x2="626.4" y2="501.9" stroke="#000" stroke-width="2.4" />
<line x1="596.4" y1="559.8" x2="605.3" y2="559.8" stroke="#000" stroke-width="2.4" />
<line x1="621.7" y1="559.8" x2="630.9" y2="559.8" stroke="#000" stroke-width="2.4" />
<line x1="596.4" y1="651.2" x2="605.3" y2="651.2" stroke="#000" stroke-width="1.6" />
<line x1="621.7" y1="651.2" x2="630.9" y2="651.2" stroke="#000" stroke-width="1.6" />
<rect x="631.9" y="633" width="11" height="34.4" rx="0" stroke="#000" stroke-width="2.1" fill="#fff"/>
<line x1="631.9" y1="644.8" x2="642.9" y2="644.8" stroke="#000" stroke-width="1.6" />
<line x1="631.9" y1="662" x2="642.9" y2="662" stroke="#000" stroke-width="1.6" />
<path d="M581.6,634.4 L596.4,634 L596.4,666.4 L581.6,666 Z" stroke="#000" stroke-width="2.1" fill="#fff" />
<line x1="581.6" y1="649.5" x2="596.4" y2="649.5" stroke="#000" stroke-width="1.7" />
<rect x="574.1" y="635" width="7.5" height="31" rx="1.5" stroke="#000" stroke-width="2.1" fill="#fff"/>
<line x1="576" y1="635" x2="576" y2="666" stroke="#000" stroke-width="2.8" />
<line x1="578.2" y1="635" x2="578.2" y2="666" stroke="#000" stroke-width="1.0" />
<path d="M574.1,640.6 H565.1 Q561.7,642.8 561.7,650 Q561.7,657.3 565.1,659.5 H574.1" stroke="#000" stroke-width="2.1" fill="#fff" />
<line x1="564.8" y1="641.4" x2="564.8" y2="658.8" stroke="#000" stroke-width="1.2" />
<path d="M567.2,717.2 L578.3,713.2 L578.3,783.3 L567.2,778.6 Z" stroke="#000" stroke-width="2.1" fill="#fff" />
<line x1="570.6" y1="716.2" x2="570.6" y2="780" stroke="#000" stroke-width="1.5" />
<rect x="561.8" y="732" width="5.4" height="33.8" rx="0" stroke="#000" stroke-width="2.1" fill="#fff"/>
<line x1="561.8" y1="738.8" x2="567.2" y2="738.8" stroke="#000" stroke-width="1.5" />
<line x1="561.8" y1="757.7" x2="567.2" y2="757.7" stroke="#000" stroke-width="1.5" />
<rect x="554" y="734.8" width="6.4" height="27.6" rx="0" stroke="#000" stroke-width="2.1" fill="#fff"/>
<line x1="555.6" y1="734.8" x2="555.6" y2="762.4" stroke="#333" stroke-width="3.0" />
<rect x="578.3" y="739.8" width="19.5" height="17.5" rx="0" stroke="#fff" stroke-width="0.01" fill="#fff"/>
<line x1="578.3" y1="739.8" x2="593.8" y2="739.8" stroke="#000" stroke-width="1.7" />
<line x1="578.3" y1="757.3" x2="595.8" y2="757.3" stroke="#000" stroke-width="1.7" />
<path d="M583.3,744 C583.65,743.13 583.93,742.47 585.4,738.8 C586.87,735.13 590.48,725.15 592.1,722 C593.72,718.85 594.2,716.53 595.1,719.9 C596,723.27 596.77,733.43 597.5,742.2 C598.23,750.97 599,766.72 599.5,772.5 C600,778.28 600.05,778.15 600.5,776.9 C600.95,775.65 601.97,774.15 602.2,765 C602.43,755.85 601.95,729.17 601.9,722" stroke="#000" stroke-width="5.6" fill="none" stroke-linecap="butt" stroke-linejoin="round"/>
<path d="M583.3,744 C583.65,743.13 583.93,742.47 585.4,738.8 C586.87,735.13 590.48,725.15 592.1,722 C593.72,718.85 594.2,716.53 595.1,719.9 C596,723.27 596.77,733.43 597.5,742.2 C598.23,750.97 599,766.72 599.5,772.5 C600,778.28 600.05,778.15 600.5,776.9 C600.95,775.65 601.97,774.15 602.2,765 C602.43,755.85 601.95,729.17 601.9,722" stroke="#fff" stroke-width="2.4" fill="none" stroke-linecap="butt" stroke-linejoin="round"/>
<rect x="622.4" y="730" width="15.5" height="37.8" rx="1.5" stroke="#000" stroke-width="2.1" fill="#fff"/>
<line x1="625.5" y1="730" x2="625.5" y2="767.8" stroke="#000" stroke-width="1.2" />
<line x1="625.5" y1="739.5" x2="637.9" y2="739.5" stroke="#000" stroke-width="1.6" />
<line x1="625.5" y1="757.7" x2="637.9" y2="757.7" stroke="#000" stroke-width="1.6" />
</g>
<path d="M744.9,577.9 H744 A27.5,27.5 0 0 1 716.5,550.4 V434 A27.5,27.5 0 0 1 744,406.5 H860.8 A27.5,27.5 0 0 1 888.3,434 V550.4 A27.5,27.5 0 0 1 860.8,577.9 H831.7" stroke="#000" stroke-width="2.1" fill="none" />
<path d="M857.2,577.9 C849.2,578.1 845.2,582.1 842.2,588.1 C839.2,595.1 836.2,602.1 831.7,607.1" stroke="#000" stroke-width="1.9" fill="none" />
<path d="M780.4,685.3 H744 A27.5,27.5 0 0 0 716.5,712.8 V829.2 A27.5,27.5 0 0 0 744,856.7 H860.8 A27.5,27.5 0 0 0 888.3,829.2 V712.8 A27.5,27.5 0 0 0 860.8,685.3 H823.9" stroke="#000" stroke-width="2.1" fill="none" />
<path d="M857.2,685.3 C849.2,685.1 845.2,681.1 842.2,675.1 C839.2,668.1 836.2,661.1 831.7,656.1" stroke="#000" stroke-width="1.9" fill="none" />
<path d="M764.9,665.8 C762.4,675.3 756.4,683.3 746.4,685.3" stroke="#000" stroke-width="1.9" fill="none" />
<circle cx="745.2" cy="435.2" r="14.6" stroke="#000" stroke-width="2.1" fill="none"/>
<circle cx="859.6" cy="435.2" r="14.6" stroke="#000" stroke-width="2.1" fill="none"/>
<circle cx="745.2" cy="548.6" r="14.6" stroke="#000" stroke-width="2.1" fill="none"/>
<circle cx="859.6" cy="548.6" r="14.6" stroke="#000" stroke-width="2.1" fill="none"/>
<circle cx="745.2" cy="714.7" r="14.6" stroke="#000" stroke-width="2.1" fill="none"/>
<circle cx="859.6" cy="714.7" r="14.6" stroke="#000" stroke-width="2.1" fill="none"/>
<circle cx="745.2" cy="827.5" r="14.6" stroke="#000" stroke-width="2.1" fill="none"/>
<circle cx="859.6" cy="827.5" r="14.6" stroke="#000" stroke-width="2.1" fill="none"/>
<rect x="745.4" y="264.3" width="114" height="159.1" rx="0" stroke="#000" stroke-width="2.1" fill="#fff"/>
<rect x="745.4" y="839.3" width="114" height="160.7" rx="0" stroke="#000" stroke-width="2.1" fill="#fff"/>
<rect x="745.4" y="423.4" width="114" height="137" rx="0" stroke="#000" stroke-width="2.1" fill="#fff"/>
<line x1="747.8" y1="423.4" x2="747.8" y2="560.4" stroke="#000" stroke-width="2.2" />
<line x1="857" y1="423.4" x2="857" y2="560.4" stroke="#000" stroke-width="2.2" />
<rect x="745.4" y="702.9" width="114" height="136.4" rx="0" stroke="#000" stroke-width="2.1" fill="#fff"/>
<line x1="747.8" y1="702.9" x2="747.8" y2="839.3" stroke="#000" stroke-width="2.2" />
<line x1="857" y1="702.9" x2="857" y2="839.3" stroke="#000" stroke-width="2.2" />
<circle cx="802.4" cy="303.9" r="16.2" stroke="#000" stroke-width="2.1" fill="none"/>
<line x1="797.86" y1="303.9" x2="806.94" y2="303.9" stroke="#222" stroke-width="1.2" />
<line x1="802.4" y1="299.36" x2="802.4" y2="308.44" stroke="#222" stroke-width="1.2" />
<line x1="780.7" y1="303.9" x2="792.36" y2="303.9" stroke="#222" stroke-width="1.2" />
<line x1="812.44" y1="303.9" x2="824.1" y2="303.9" stroke="#222" stroke-width="1.2" />
<line x1="802.4" y1="282.2" x2="802.4" y2="293.86" stroke="#222" stroke-width="1.2" />
<line x1="802.4" y1="313.94" x2="802.4" y2="325.6" stroke="#222" stroke-width="1.2" />
<circle cx="802.4" cy="959.9" r="16.2" stroke="#000" stroke-width="2.1" fill="none"/>
<line x1="797.86" y1="959.9" x2="806.94" y2="959.9" stroke="#222" stroke-width="1.2" />
<line x1="802.4" y1="955.36" x2="802.4" y2="964.44" stroke="#222" stroke-width="1.2" />
<line x1="780.7" y1="959.9" x2="792.36" y2="959.9" stroke="#222" stroke-width="1.2" />
<line x1="812.44" y1="959.9" x2="824.1" y2="959.9" stroke="#222" stroke-width="1.2" />
<line x1="802.4" y1="938.2" x2="802.4" y2="949.86" stroke="#222" stroke-width="1.2" />
<line x1="802.4" y1="969.94" x2="802.4" y2="981.6" stroke="#222" stroke-width="1.2" />
<circle cx="762.5" cy="442.3" r="13.3" stroke="#000" stroke-width="2.1" fill="#fff"/>
<circle cx="762.5" cy="442.3" r="11.5" stroke="#000" stroke-width="2.0" fill="none"/>
<path d="M769.79,443.58 L765.03,449.25 L757.74,447.97 L755.21,441.02 L759.97,435.35 L767.26,436.63 Z" stroke="#000" stroke-width="1.4" fill="none" />
<circle cx="762.5" cy="442.3" r="5.2" stroke="#000" stroke-width="1.6" fill="none"/>
<circle cx="762.5" cy="492.4" r="18.8" stroke="#000" stroke-width="1.8" fill="#fff"/>
<path d="M781.1,492.4 L771.8,508.51 L753.2,508.51 L743.9,492.4 L753.2,476.29 L771.8,476.29 Z" stroke="#000" stroke-width="1.5" fill="none" />
<circle cx="762.5" cy="492.4" r="16.4" stroke="#333" stroke-width="1.1" fill="none"/>
<circle cx="762.5" cy="492.4" r="13.4" stroke="#000" stroke-width="2.1" fill="none"/>
<circle cx="762.5" cy="542.6" r="13.3" stroke="#000" stroke-width="2.1" fill="#fff"/>
<circle cx="762.5" cy="542.6" r="11.5" stroke="#000" stroke-width="2.0" fill="none"/>
<path d="M769.79,543.88 L765.03,549.55 L757.74,548.27 L755.21,541.32 L759.97,535.65 L767.26,536.93 Z" stroke="#000" stroke-width="1.4" fill="none" />
<circle cx="762.5" cy="542.6" r="5.2" stroke="#000" stroke-width="1.6" fill="none"/>
<circle cx="842.3" cy="442.3" r="13.3" stroke="#000" stroke-width="2.1" fill="#fff"/>
<circle cx="842.3" cy="442.3" r="11.5" stroke="#000" stroke-width="2.0" fill="none"/>
<path d="M849.59,443.58 L844.83,449.25 L837.54,447.97 L835.01,441.02 L839.77,435.35 L847.06,436.63 Z" stroke="#000" stroke-width="1.4" fill="none" />
<circle cx="842.3" cy="442.3" r="5.2" stroke="#000" stroke-width="1.6" fill="none"/>
<circle cx="842.3" cy="492.4" r="18.8" stroke="#000" stroke-width="1.8" fill="#fff"/>
<path d="M860.9,492.4 L851.6,508.51 L833,508.51 L823.7,492.4 L833,476.29 L851.6,476.29 Z" stroke="#000" stroke-width="1.5" fill="none" />
<circle cx="842.3" cy="492.4" r="16.4" stroke="#333" stroke-width="1.1" fill="none"/>
<circle cx="842.3" cy="492.4" r="13.4" stroke="#000" stroke-width="2.1" fill="none"/>
<circle cx="842.3" cy="542.6" r="13.3" stroke="#000" stroke-width="2.1" fill="#fff"/>
<circle cx="842.3" cy="542.6" r="11.5" stroke="#000" stroke-width="2.0" fill="none"/>
<path d="M849.59,543.88 L844.83,549.55 L837.54,548.27 L835.01,541.32 L839.77,535.65 L847.06,536.93 Z" stroke="#000" stroke-width="1.4" fill="none" />
<circle cx="842.3" cy="542.6" r="5.2" stroke="#000" stroke-width="1.6" fill="none"/>
<circle cx="762.5" cy="721.8" r="13.3" stroke="#000" stroke-width="2.1" fill="#fff"/>
<circle cx="762.5" cy="721.8" r="11.5" stroke="#000" stroke-width="2.0" fill="none"/>
<path d="M769.79,723.08 L765.03,728.75 L757.74,727.47 L755.21,720.52 L759.97,714.85 L767.26,716.13 Z" stroke="#000" stroke-width="1.4" fill="none" />
<circle cx="762.5" cy="721.8" r="5.2" stroke="#000" stroke-width="1.6" fill="none"/>
<circle cx="762.5" cy="771.9" r="18.8" stroke="#000" stroke-width="1.8" fill="#fff"/>
<path d="M781.1,771.9 L771.8,788.01 L753.2,788.01 L743.9,771.9 L753.2,755.79 L771.8,755.79 Z" stroke="#000" stroke-width="1.5" fill="none" />
<circle cx="762.5" cy="771.9" r="16.4" stroke="#333" stroke-width="1.1" fill="none"/>
<circle cx="762.5" cy="771.9" r="13.4" stroke="#000" stroke-width="2.1" fill="none"/>
<circle cx="762.5" cy="822.1" r="13.3" stroke="#000" stroke-width="2.1" fill="#fff"/>
<circle cx="762.5" cy="822.1" r="11.5" stroke="#000" stroke-width="2.0" fill="none"/>
<path d="M769.79,823.38 L765.03,829.05 L757.74,827.77 L755.21,820.82 L759.97,815.15 L767.26,816.43 Z" stroke="#000" stroke-width="1.4" fill="none" />
<circle cx="762.5" cy="822.1" r="5.2" stroke="#000" stroke-width="1.6" fill="none"/>
<circle cx="842.3" cy="721.8" r="13.3" stroke="#000" stroke-width="2.1" fill="#fff"/>
<circle cx="842.3" cy="721.8" r="11.5" stroke="#000" stroke-width="2.0" fill="none"/>
<path d="M849.59,723.08 L844.83,728.75 L837.54,727.47 L835.01,720.52 L839.77,714.85 L847.06,716.13 Z" stroke="#000" stroke-width="1.4" fill="none" />
<circle cx="842.3" cy="721.8" r="5.2" stroke="#000" stroke-width="1.6" fill="none"/>
<circle cx="842.3" cy="771.9" r="18.8" stroke="#000" stroke-width="1.8" fill="#fff"/>
<path d="M860.9,771.9 L851.6,788.01 L833,788.01 L823.7,771.9 L833,755.79 L851.6,755.79 Z" stroke="#000" stroke-width="1.5" fill="none" />
<circle cx="842.3" cy="771.9" r="16.4" stroke="#333" stroke-width="1.1" fill="none"/>
<circle cx="842.3" cy="771.9" r="13.4" stroke="#000" stroke-width="2.1" fill="none"/>
<circle cx="842.3" cy="822.1" r="13.3" stroke="#000" stroke-width="2.1" fill="#fff"/>
<circle cx="842.3" cy="822.1" r="11.5" stroke="#000" stroke-width="2.0" fill="none"/>
<path d="M849.59,823.38 L844.83,829.05 L837.54,827.77 L835.01,820.82 L839.77,815.15 L847.06,816.43 Z" stroke="#000" stroke-width="1.4" fill="none" />
<circle cx="842.3" cy="822.1" r="5.2" stroke="#000" stroke-width="1.6" fill="none"/>
<g>
<rect x="793.8" y="423.4" width="16.6" height="415.9" rx="0" stroke="#fff" stroke-width="0.01" fill="#fff"/>
<path d="M798.7,423.4 V410.9 H805.8 V423.4" stroke="#000" stroke-width="1.9" fill="#fff" />
<line x1="794" y1="423.4" x2="794" y2="702.9" stroke="#000" stroke-width="2.2" />
<line x1="798.7" y1="411" x2="798.7" y2="702.9" stroke="#000" stroke-width="1.8" />
<line x1="805.8" y1="411" x2="805.8" y2="702.9" stroke="#000" stroke-width="1.8" />
<line x1="810.1" y1="423.4" x2="810.1" y2="702.9" stroke="#000" stroke-width="2.2" />
<line x1="793.9" y1="702.9" x2="793.9" y2="839.3" stroke="#000" stroke-width="2.2" />
<line x1="798.8" y1="702.9" x2="798.8" y2="839.3" stroke="#000" stroke-width="1.7" />
<line x1="802" y1="702.9" x2="802" y2="839.3" stroke="#000" stroke-width="1.3" />
<line x1="806.1" y1="702.9" x2="806.1" y2="839.3" stroke="#000" stroke-width="1.7" />
<line x1="810.1" y1="702.9" x2="810.1" y2="839.3" stroke="#000" stroke-width="2.2" />
<line x1="794" y1="490.1" x2="798.7" y2="490.1" stroke="#000" stroke-width="1.7" />
<line x1="805.8" y1="490.1" x2="810.1" y2="490.1" stroke="#000" stroke-width="1.7" />
<line x1="798.7" y1="492.5" x2="805.8" y2="492.5" stroke="#000" stroke-width="1.7" />
<line x1="798.7" y1="529.9" x2="805.8" y2="529.9" stroke="#000" stroke-width="1.7" />
<line x1="798.7" y1="555.1" x2="805.8" y2="555.1" stroke="#000" stroke-width="1.7" />
<line x1="798.7" y1="582.8" x2="805.8" y2="582.8" stroke="#000" stroke-width="1.7" />
<line x1="798.7" y1="657" x2="805.8" y2="657" stroke="#000" stroke-width="1.7" />
<line x1="798.7" y1="670.5" x2="805.8" y2="670.5" stroke="#000" stroke-width="1.7" />
<line x1="798.7" y1="700.5" x2="805.8" y2="700.5" stroke="#000" stroke-width="1.7" />
<line x1="793.9" y1="787.5" x2="798.8" y2="787.5" stroke="#000" stroke-width="1.7" />
<line x1="806.1" y1="787.5" x2="810.1" y2="787.5" stroke="#000" stroke-width="1.7" />
<path d="M793.8,670.79 A18.7,18.7 0 0 0 793.8,704.01" stroke="#000" stroke-width="1.9" fill="none" />
<path d="M810.4,670.5 A18.7,18.7 0 0 1 810.4,704.3" stroke="#000" stroke-width="1.9" fill="none" />
<path d="M793.8,673.2 A16.6,16.6 0 0 0 793.8,701.6" stroke="#000" stroke-width="1.1" fill="none" />
<path d="M810.4,672.85 A16.6,16.6 0 0 1 810.4,701.95" stroke="#000" stroke-width="1.1" fill="none" />
<path d="M793.8,675.85 A14.4,14.4 0 0 0 793.8,698.95" stroke="#000" stroke-width="1.9" fill="none" />
<path d="M810.4,675.43 A14.4,14.4 0 0 1 810.4,699.37" stroke="#000" stroke-width="1.9" fill="none" />
<path d="M780,685.3 A22.5,22.5 0 0 0 785.7,702.9" stroke="#000" stroke-width="1.9" fill="none" />
<path d="M824,685.3 A22.0,22.0 0 0 1 818.4,702.9" stroke="#000" stroke-width="1.9" fill="none" />
<path d="M819.6,565 C821.9,567 823.4,571 823.6,576" stroke="#000" stroke-width="1.6" fill="none" />
<path d="M820.5,615.5 C824.4,614.5 828.4,612.5 831.5,609.5" stroke="#000" stroke-width="1.6" fill="none" />
<rect x="820.5" y="576" width="11" height="34" rx="0" stroke="#000" stroke-width="2.1" fill="#fff"/>
<line x1="820.5" y1="583.5" x2="831.5" y2="583.5" stroke="#000" stroke-width="1.6" />
<line x1="820.5" y1="600" x2="831.5" y2="600" stroke="#000" stroke-width="1.6" />
<line x1="759.9" y1="578.3" x2="771.4" y2="578.3" stroke="#000" stroke-width="1.7" />
<line x1="759.9" y1="583.7" x2="774.9" y2="583.7" stroke="#000" stroke-width="1.7" />
<line x1="762.4" y1="601.9" x2="775.4" y2="601.9" stroke="#000" stroke-width="1.7" />
<path d="M757.9,586 C758.1,587 758.42,587.33 759.1,592 C759.78,596.67 761.02,608.93 762,614 C762.98,619.07 763.77,622.4 765,622.4 C766.23,622.4 767.67,617.53 769.4,614 C771.13,610.47 774.15,604.03 775.4,601.2 C776.65,598.37 776.65,597.7 776.9,597" stroke="#000" stroke-width="5.2" fill="none" stroke-linecap="butt" stroke-linejoin="round"/>
<path d="M757.9,586 C758.1,587 758.42,587.33 759.1,592 C759.78,596.67 761.02,608.93 762,614 C762.98,619.07 763.77,622.4 765,622.4 C766.23,622.4 767.67,617.53 769.4,614 C771.13,610.47 774.15,604.03 775.4,601.2 C776.65,598.37 776.65,597.7 776.9,597" stroke="#fff" stroke-width="1.9" fill="none" stroke-linecap="butt" stroke-linejoin="round"/>
<path d="M770.9,590 C771.15,588.95 771.53,587.57 772.4,583.7 C773.27,579.83 775.08,570.12 776.1,566.8 C777.12,563.48 777.82,560.98 778.5,563.8 C779.18,566.62 779.75,574.77 780.2,583.7 C780.65,592.63 780.87,611.08 781.2,617.4 C781.53,623.72 781.7,622 782.2,621.6 C782.7,621.2 783.77,621.1 784.2,615 C784.63,608.9 784.7,590 784.8,585" stroke="#000" stroke-width="5.2" fill="none" stroke-linecap="butt" stroke-linejoin="round"/>
<path d="M770.9,590 C771.15,588.95 771.53,587.57 772.4,583.7 C773.27,579.83 775.08,570.12 776.1,566.8 C777.12,563.48 777.82,560.98 778.5,563.8 C779.18,566.62 779.75,574.77 780.2,583.7 C780.65,592.63 780.87,611.08 781.2,617.4 C781.53,623.72 781.7,622 782.2,621.6 C782.7,621.2 783.77,621.1 784.2,615 C784.63,608.9 784.7,590 784.8,585" stroke="#fff" stroke-width="1.9" fill="none" stroke-linecap="butt" stroke-linejoin="round"/>
<path d="M746,563.2 L748.7,561.6 L757.4,557.4 L757.9,557.4 L757.9,629 L746,623.1 Z" stroke="#000" stroke-width="2.1" fill="#fff" />
<line x1="749.2" y1="561.4" x2="749.2" y2="624.6" stroke="#000" stroke-width="1.5" />
<rect x="740.4" y="575.6" width="5.5" height="35.1" rx="2.2" stroke="#000" stroke-width="2.1" fill="#fff"/>
<line x1="740.4" y1="582.4" x2="745.9" y2="582.4" stroke="#000" stroke-width="1.5" />
<line x1="740.4" y1="600" x2="745.9" y2="600" stroke="#000" stroke-width="1.5" />
<rect x="733.4" y="578.1" width="7" height="29.3" rx="0" stroke="#000" stroke-width="2.1" fill="#fff"/>
<line x1="735.4" y1="578.1" x2="735.4" y2="607.4" stroke="#000" stroke-width="2.8" />
<path d="M733.4,584.3 L730.2,584.3 L727.2,587.2 L727.2,598.2 L730.2,601 L733.4,601" stroke="#000" stroke-width="2.1" fill="#fff" />
<line x1="730" y1="585" x2="730" y2="600.4" stroke="#000" stroke-width="1.2" />
<path d="M789.7,500.5 L785,560 L785,673.2 L793.9,673.2 L793.9,500.5 Z" stroke="#000" stroke-width="2.1" fill="#fff" />
<path d="M815,500.5 L819.5,560 L819.5,673.2 L810.3,673.2 L810.3,500.5 Z" stroke="#000" stroke-width="2.1" fill="#fff" />
<line x1="789.7" y1="501.6" x2="793.9" y2="501.6" stroke="#000" stroke-width="2.4" />
<line x1="810.3" y1="501.9" x2="815" y2="501.9" stroke="#000" stroke-width="2.4" />
<line x1="785" y1="559.8" x2="793.9" y2="559.8" stroke="#000" stroke-width="2.4" />
<line x1="810.3" y1="559.8" x2="819.5" y2="559.8" stroke="#000" stroke-width="2.4" />
<line x1="785" y1="651.2" x2="793.9" y2="651.2" stroke="#000" stroke-width="1.6" />
<line x1="810.3" y1="651.2" x2="819.5" y2="651.2" stroke="#000" stroke-width="1.6" />
<rect x="820.5" y="633" width="11" height="34.4" rx="0" stroke="#000" stroke-width="2.1" fill="#fff"/>
<line x1="820.5" y1="644.8" x2="831.5" y2="644.8" stroke="#000" stroke-width="1.6" />
<line x1="820.5" y1="662" x2="831.5" y2="662" stroke="#000" stroke-width="1.6" />
<path d="M770.2,634.4 L785,634 L785,666.4 L770.2,666 Z" stroke="#000" stroke-width="2.1" fill="#fff" />
<line x1="770.2" y1="649.5" x2="785" y2="649.5" stroke="#000" stroke-width="1.7" />
<rect x="762.7" y="635" width="7.5" height="31" rx="1.5" stroke="#000" stroke-width="2.1" fill="#fff"/>
<line x1="764.6" y1="635" x2="764.6" y2="666" stroke="#000" stroke-width="2.8" />
<line x1="766.8" y1="635" x2="766.8" y2="666" stroke="#000" stroke-width="1.0" />
<path d="M762.7,640.6 H753.7 Q750.3,642.8 750.3,650 Q750.3,657.3 753.7,659.5 H762.7" stroke="#000" stroke-width="2.1" fill="#fff" />
<line x1="753.4" y1="641.4" x2="753.4" y2="658.8" stroke="#000" stroke-width="1.2" />
<path d="M755.8,717.2 L766.9,713.2 L766.9,783.3 L755.8,778.6 Z" stroke="#000" stroke-width="2.1" fill="#fff" />
<line x1="759.2" y1="716.2" x2="759.2" y2="780" stroke="#000" stroke-width="1.5" />
<rect x="750.4" y="732" width="5.4" height="33.8" rx="0" stroke="#000" stroke-width="2.1" fill="#fff"/>
<line x1="750.4" y1="738.8" x2="755.8" y2="738.8" stroke="#000" stroke-width="1.5" />
<line x1="750.4" y1="757.7" x2="755.8" y2="757.7" stroke="#000" stroke-width="1.5" />
<rect x="742.6" y="734.8" width="6.4" height="27.6" rx="0" stroke="#000" stroke-width="2.1" fill="#fff"/>
<line x1="744.2" y1="734.8" x2="744.2" y2="762.4" stroke="#333" stroke-width="3.0" />
<rect x="766.9" y="739.8" width="19.5" height="17.5" rx="0" stroke="#fff" stroke-width="0.01" fill="#fff"/>
<line x1="766.9" y1="739.8" x2="782.4" y2="739.8" stroke="#000" stroke-width="1.7" />
<line x1="766.9" y1="757.3" x2="784.4" y2="757.3" stroke="#000" stroke-width="1.7" />
<path d="M771.9,744 C772.25,743.13 772.53,742.47 774,738.8 C775.47,735.13 779.08,725.15 780.7,722 C782.32,718.85 782.8,716.53 783.7,719.9 C784.6,723.27 785.37,733.43 786.1,742.2 C786.83,750.97 787.6,766.72 788.1,772.5 C788.6,778.28 788.65,778.15 789.1,776.9 C789.55,775.65 790.57,774.15 790.8,765 C791.03,755.85 790.55,729.17 790.5,722" stroke="#000" stroke-width="5.6" fill="none" stroke-linecap="butt" stroke-linejoin="round"/>
<path d="M771.9,744 C772.25,743.13 772.53,742.47 774,738.8 C775.47,735.13 779.08,725.15 780.7,722 C782.32,718.85 782.8,716.53 783.7,719.9 C784.6,723.27 785.37,733.43 786.1,742.2 C786.83,750.97 787.6,766.72 788.1,772.5 C788.6,778.28 788.65,778.15 789.1,776.9 C789.55,775.65 790.57,774.15 790.8,765 C791.03,755.85 790.55,729.17 790.5,722" stroke="#fff" stroke-width="2.4" fill="none" stroke-linecap="butt" stroke-linejoin="round"/>
<rect x="811" y="730" width="15.5" height="37.8" rx="1.5" stroke="#000" stroke-width="2.1" fill="#fff"/>
<line x1="814.1" y1="730" x2="814.1" y2="767.8" stroke="#000" stroke-width="1.2" />
<line x1="814.1" y1="739.5" x2="826.5" y2="739.5" stroke="#000" stroke-width="1.6" />
<line x1="814.1" y1="757.7" x2="826.5" y2="757.7" stroke="#000" stroke-width="1.6" />
</g>
</g>
<g id="side">
<line x1="1333.6" y1="362.4" x2="1333.6" y2="901.7" stroke="#000" stroke-width="2.1" />
<line x1="1333.6" y1="363.4" x2="1370" y2="363.4" stroke="#000" stroke-width="2.1" />
<line x1="1333.6" y1="370.3" x2="1368.4" y2="370.3" stroke="#000" stroke-width="2.1" />
<line x1="1333.6" y1="900.7" x2="1370" y2="900.7" stroke="#000" stroke-width="2.1" />
<line x1="1333.6" y1="893.8" x2="1368.4" y2="893.8" stroke="#000" stroke-width="2.1" />
<line x1="1368.4" y1="363.4" x2="1368.4" y2="900.7" stroke="#000" stroke-width="2.4" />
<line x1="1379" y1="372.5" x2="1379" y2="891.6" stroke="#000" stroke-width="2.1" />
<path d="M1370,363.4 A9,9 0 0 1 1379.0,372.5" stroke="#000" stroke-width="2.1" fill="none" />
<path d="M1367.6,371 C1369,376 1373,379.5 1379.0,379.7" stroke="#000" stroke-width="1.7" fill="none" />
<line x1="1373" y1="373.8" x2="1379" y2="373.8" stroke="#000" stroke-width="1.5" />
<path d="M1370,900.7 A9,9 0 0 0 1379.0,891.6" stroke="#000" stroke-width="2.1" fill="none" />
<path d="M1367.6,893.1 C1369,888.1 1373,884.6 1379.0,884.4" stroke="#000" stroke-width="1.7" fill="none" />
<line x1="1373" y1="890.3" x2="1379" y2="890.3" stroke="#000" stroke-width="1.5" />
<rect x="1379.9" y="365.6" width="27.1" height="41.3" rx="0" stroke="#000" stroke-width="2.1" fill="#fff"/>
<line x1="1379.9" y1="391.8" x2="1407" y2="391.8" stroke="#000" stroke-width="2.1" />
<rect x="1407" y="388.3" width="3.6" height="18.6" rx="0" stroke="#000" stroke-width="1.6" fill="#fff"/>
<rect x="1410.6" y="390.9" width="11.9" height="16" rx="0" stroke="#000" stroke-width="2.1" fill="#fff"/>
<rect x="1379.9" y="578" width="27.1" height="41.5" rx="0" stroke="#000" stroke-width="2.1" fill="#fff"/>
<line x1="1379.9" y1="593.1" x2="1407" y2="593.1" stroke="#000" stroke-width="2.1" />
<rect x="1407" y="578" width="3.6" height="18.8" rx="0" stroke="#000" stroke-width="1.6" fill="#fff"/>
<rect x="1410.6" y="580.4" width="11.9" height="14.1" rx="1.2" stroke="#000" stroke-width="2.1" fill="#fff"/>
<rect x="1379.9" y="644.5" width="27.1" height="41.25" rx="0" stroke="#000" stroke-width="2.1" fill="#fff"/>
<line x1="1379.9" y1="670.65" x2="1407" y2="670.65" stroke="#000" stroke-width="2.1" />
<rect x="1407" y="667.15" width="3.6" height="18.6" rx="0" stroke="#000" stroke-width="1.6" fill="#fff"/>
<rect x="1410.6" y="669.75" width="11.9" height="16" rx="0" stroke="#000" stroke-width="2.1" fill="#fff"/>
<rect x="1379.9" y="857.5" width="27.1" height="41" rx="0" stroke="#000" stroke-width="2.1" fill="#fff"/>
<line x1="1379.9" y1="872.6" x2="1407" y2="872.6" stroke="#000" stroke-width="2.1" />
<rect x="1407" y="857.5" width="3.6" height="18.8" rx="0" stroke="#000" stroke-width="1.6" fill="#fff"/>
<rect x="1410.6" y="859.9" width="11.9" height="14.1" rx="1.2" stroke="#000" stroke-width="2.1" fill="#fff"/>
<rect x="1379.9" y="406.9" width="90.6" height="171.1" rx="0" stroke="#000" stroke-width="2.1" fill="#fff"/>
<line x1="1379.9" y1="435.3" x2="1470.5" y2="435.3" stroke="#000" stroke-width="2.1" />
<line x1="1379.9" y1="549.6" x2="1470.5" y2="549.6" stroke="#000" stroke-width="2.1" />
<rect x="1379.9" y="685.75" width="90.6" height="171.75" rx="0" stroke="#000" stroke-width="2.1" fill="#fff"/>
<line x1="1379.9" y1="714.15" x2="1470.5" y2="714.15" stroke="#000" stroke-width="2.1" />
<line x1="1379.9" y1="829.1" x2="1470.5" y2="829.1" stroke="#000" stroke-width="2.1" />
<path d="M1470.6,424 V263.8 H1475.6 V424" stroke="#000" stroke-width="2.1" fill="#fff" />
<path d="M1470.6,840 V1000 H1475.6 V840" stroke="#000" stroke-width="2.1" fill="#fff" />
<rect x="1476.2" y="423.6" width="101.9" height="137.2" rx="0" stroke="#000" stroke-width="2.1" fill="#fff"/>
<line x1="1574.3" y1="423.6" x2="1574.3" y2="560.8" stroke="#000" stroke-width="1.4" />
<rect x="1476.2" y="423.6" width="6.2" height="137.2" rx="0" stroke="#000" stroke-width="1.0" fill="#111"/>
<line x1="1479.6" y1="424.6" x2="1479.6" y2="559.8" stroke="#777" stroke-width="0.6" />
<line x1="1486.6" y1="423.6" x2="1486.6" y2="560.8" stroke="#000" stroke-width="1.7" />
<rect x="1486.9" y="431" width="15.5" height="22.3" rx="0" stroke="#000" stroke-width="2.1" fill="#fff"/>
<rect x="1486.9" y="531.6" width="15.5" height="22.4" rx="0" stroke="#000" stroke-width="2.1" fill="#fff"/>
<rect x="1486.9" y="476.2" width="10.3" height="32" rx="1.5" stroke="#000" stroke-width="2.1" fill="#fff"/>
<line x1="1486.9" y1="494" x2="1497.2" y2="494" stroke="#000" stroke-width="1.7" />
<rect x="1476.2" y="703" width="101.9" height="137" rx="0" stroke="#000" stroke-width="2.1" fill="#fff"/>
<line x1="1574.3" y1="703" x2="1574.3" y2="840" stroke="#000" stroke-width="1.4" />
<rect x="1476.2" y="703" width="6.2" height="137" rx="0" stroke="#000" stroke-width="1.0" fill="#111"/>
<line x1="1479.6" y1="704" x2="1479.6" y2="839" stroke="#777" stroke-width="0.6" />
<line x1="1486.6" y1="703" x2="1486.6" y2="840" stroke="#000" stroke-width="1.7" />
<rect x="1486.9" y="710.4" width="15.5" height="22.3" rx="0" stroke="#000" stroke-width="2.1" fill="#fff"/>
<rect x="1486.9" y="810.8" width="15.5" height="22.4" rx="0" stroke="#000" stroke-width="2.1" fill="#fff"/>
<rect x="1486.9" y="755.6" width="10.3" height="32" rx="1.5" stroke="#000" stroke-width="2.1" fill="#fff"/>
<line x1="1486.9" y1="773.4" x2="1497.2" y2="773.4" stroke="#000" stroke-width="1.7" />
<path d="M1589.6,457 V559.8 L1581.1,570.7 H1565.9 V668.2 C1575,666 1581,661.5 1587.2,652.8 L1635.7,584.1 C1642,575 1645.8,570 1645.8,558 V523 C1645.8,508 1652,501 1661.5,494 A46,46 0 1 0 1589.6,457 Z" stroke="#000" stroke-width="2.1" fill="#fff" />
<circle cx="1635.4" cy="456.8" r="34.5" stroke="#000" stroke-width="2.1" fill="none"/>
<path d="M1507.7,489.8 H1565.9 V787.5 H1507.7 Z" stroke="#000" stroke-width="2.1" fill="#fff" />
<path d="M1514.4,500.8 L1563.9,501.8 L1562.5,557.8 L1513,556.2 Z" stroke="#000" stroke-width="2.1" fill="none" />
<line x1="1507.7" y1="565" x2="1565.9" y2="565" stroke="#000" stroke-width="1.3" />
<path d="M1510.5,620 V648.6 A24.65,24.65 0 0 0 1559.8,648.6 V620" stroke="#000" stroke-width="1.9" fill="none" />
<circle cx="1536.6" cy="592.9" r="36.1" stroke="#000" stroke-width="2.0" fill="#fff"/>
<circle cx="1536.6" cy="592.9" r="32.3" stroke="#000" stroke-width="2.0" fill="none"/>
<circle cx="1536.6" cy="592.9" r="28.2" stroke="#000" stroke-width="2.0" fill="none"/>
<circle cx="1536.6" cy="592.9" r="24.9" stroke="#000" stroke-width="1.5" fill="none"/>
<circle cx="1536.6" cy="592.9" r="15.1" stroke="#000" stroke-width="14.4" fill="none"/>
<circle cx="1536.6" cy="592.9" r="18.2" stroke="#5a5a5a" stroke-width="0.7" fill="none"/>
<circle cx="1536.6" cy="592.9" r="12.6" stroke="#5a5a5a" stroke-width="0.7" fill="none"/>
<circle cx="1536.6" cy="592.9" r="5.1" stroke="#000" stroke-width="1.7" fill="#fff"/>
<circle cx="1536.6" cy="748.9" r="36.1" stroke="#000" stroke-width="2.0" fill="#fff"/>
<circle cx="1536.6" cy="748.9" r="32.3" stroke="#000" stroke-width="2.0" fill="none"/>
<circle cx="1536.6" cy="748.9" r="28.2" stroke="#000" stroke-width="2.0" fill="none"/>
<circle cx="1536.6" cy="748.9" r="24.9" stroke="#000" stroke-width="1.5" fill="none"/>
<circle cx="1536.6" cy="748.9" r="15.1" stroke="#000" stroke-width="14.4" fill="none"/>
<circle cx="1536.6" cy="748.9" r="18.2" stroke="#5a5a5a" stroke-width="0.7" fill="none"/>
<circle cx="1536.6" cy="748.9" r="12.6" stroke="#5a5a5a" stroke-width="0.7" fill="none"/>
<circle cx="1536.6" cy="748.9" r="5.1" stroke="#000" stroke-width="1.7" fill="#fff"/>
<path d="M1552,650.2 L1543.25,665.36 L1525.75,665.36 L1517,650.2 L1525.75,635.04 L1543.25,635.04 Z" stroke="#000" stroke-width="1.5" fill="#000" />
<circle cx="1534.5" cy="650.2" r="12.8" stroke="#666" stroke-width="0.8" fill="none"/>
<circle cx="1534.5" cy="650.2" r="7.9" stroke="#fff" stroke-width="0.1" fill="#fff"/>
<circle cx="1534.5" cy="650.2" r="5.1" stroke="#000" stroke-width="1.7" fill="#fff"/>
</g>
<g id="dims" class="t">
<line x1="304.7" y1="216" x2="304.7" y2="393" stroke="#8c8c8c" stroke-width="1.25" />
<line x1="922.4" y1="216" x2="922.4" y2="393" stroke="#8c8c8c" stroke-width="1.25" />
<line x1="304.7" y1="218.1" x2="922.4" y2="218.1" stroke="#8c8c8c" stroke-width="1.25" />
<path d="M304.7,218.1 L319.5,215.05 L317.13,218.1 L319.5,221.15 Z" fill="#747474" stroke="none"/>
<path d="M922.4,218.1 L907.6,221.15 L909.97,218.1 L907.6,215.05 Z" fill="#747474" stroke="none"/>
<text transform="translate(632.9 212.7) skewX(-15) scale(0.7777 1)" font-size="22.77" fill="#7c7c7c" stroke="#7c7c7c" stroke-width="0.56">270</text>
<line x1="259.2" y1="895" x2="259.2" y2="1137.5" stroke="#8c8c8c" stroke-width="1.25" />
<line x1="968.2" y1="895" x2="968.2" y2="1137.5" stroke="#8c8c8c" stroke-width="1.25" />
<line x1="259.2" y1="1133.2" x2="968.2" y2="1133.2" stroke="#8c8c8c" stroke-width="1.25" />
<path d="M259.2,1133.2 L274,1130.15 L271.63,1133.2 L274,1136.25 Z" fill="#747474" stroke="none"/>
<path d="M968.2,1133.2 L953.4,1136.25 L955.77,1133.2 L953.4,1130.15 Z" fill="#747474" stroke="none"/>
<text transform="translate(612.4 1127.5) skewX(-15) scale(0.6902 1)" font-size="22.77" fill="#7c7c7c" stroke="#7c7c7c" stroke-width="0.56">310</text>
<line x1="425.1" y1="977" x2="425.1" y2="1050" stroke="#8c8c8c" stroke-width="1.25" />
<line x1="613.8" y1="977" x2="613.8" y2="1050" stroke="#8c8c8c" stroke-width="1.25" />
<line x1="425.1" y1="1045.8" x2="613.8" y2="1045.8" stroke="#8c8c8c" stroke-width="1.25" />
<path d="M425.1,1045.8 L439.9,1042.75 L437.53,1045.8 L439.9,1048.85 Z" fill="#747474" stroke="none"/>
<path d="M613.8,1045.8 L599,1048.85 L601.37,1045.8 L599,1042.75 Z" fill="#747474" stroke="none"/>
<text transform="translate(498.7 1040) skewX(-15) scale(0.7100 1)" font-size="22.77" fill="#7c7c7c" stroke="#7c7c7c" stroke-width="0.56">82,5</text>
<line x1="745.2" y1="1001" x2="745.2" y2="1050" stroke="#8c8c8c" stroke-width="1.25" />
<line x1="859.5" y1="1001" x2="859.5" y2="1050" stroke="#8c8c8c" stroke-width="1.25" />
<line x1="745.2" y1="1045.8" x2="859.5" y2="1045.8" stroke="#8c8c8c" stroke-width="1.25" />
<path d="M745.2,1045.8 L760,1042.75 L757.63,1045.8 L760,1048.85 Z" fill="#747474" stroke="none"/>
<path d="M859.5,1045.8 L844.7,1048.85 L847.07,1045.8 L844.7,1042.75 Z" fill="#747474" stroke="none"/>
<text transform="translate(791.2 1040) skewX(-15) scale(0.7696 1)" font-size="22.77" fill="#7c7c7c" stroke="#7c7c7c" stroke-width="0.56">50</text>
<line x1="860.5" y1="999.6" x2="923.8" y2="999.6" stroke="#8c8c8c" stroke-width="1.25" />
<line x1="918.8" y1="900.6" x2="918.8" y2="999.6" stroke="#8c8c8c" stroke-width="1.25" />
<path d="M918.8,900.6 L921.85,915.4 L918.8,913.03 L915.75,915.4 Z" fill="#747474" stroke="none"/>
<path d="M918.8,999.6 L915.75,984.8 L918.8,987.17 L921.85,984.8 Z" fill="#747474" stroke="none"/>
<text transform="translate(912.4 979.1) rotate(-90) skewX(-15) scale(0.6903 1)" font-size="22.77" fill="#7c7c7c" stroke="#7c7c7c" stroke-width="0.56">43,5</text>
<line x1="962" y1="363.4" x2="1109.3" y2="363.4" stroke="#8c8c8c" stroke-width="1.25" />
<line x1="969" y1="900.6" x2="1109.3" y2="900.6" stroke="#8c8c8c" stroke-width="1.25" />
<line x1="1104.2" y1="363.4" x2="1104.2" y2="900.6" stroke="#8c8c8c" stroke-width="1.25" />
<path d="M1104.2,363.4 L1107.25,378.2 L1104.2,375.83 L1101.15,378.2 Z" fill="#747474" stroke="none"/>
<path d="M1104.2,900.6 L1101.15,885.8 L1104.2,888.17 L1107.25,885.8 Z" fill="#747474" stroke="none"/>
<text transform="translate(1097.9 673.7) rotate(-90) skewX(-15) scale(0.7592 1)" font-size="22.77" fill="#7c7c7c" stroke="#7c7c7c" stroke-width="0.56">235</text>
<line x1="938" y1="409" x2="1055.2" y2="409" stroke="#8c8c8c" stroke-width="1.25" />
<line x1="938" y1="854.6" x2="1055.2" y2="854.6" stroke="#8c8c8c" stroke-width="1.25" />
<line x1="1050.4" y1="409" x2="1050.4" y2="854.6" stroke="#8c8c8c" stroke-width="1.25" />
<path d="M1050.4,409 L1053.45,423.8 L1050.4,421.43 L1047.35,423.8 Z" fill="#747474" stroke="none"/>
<path d="M1050.4,854.6 L1047.35,839.8 L1050.4,842.17 L1053.45,839.8 Z" fill="#747474" stroke="none"/>
<text transform="translate(1043.8 669.7) rotate(-90) skewX(-15) scale(0.6442 1)" font-size="22.77" fill="#7c7c7c" stroke="#7c7c7c" stroke-width="0.56">195</text>
<line x1="990.1" y1="291.2" x2="1060" y2="291.2" stroke="#8c8c8c" stroke-width="1.25" />
<line x1="990.1" y1="291.2" x2="903.1" y2="442.4" stroke="#8c8c8c" stroke-width="1.25" />
<path d="M926.9,400.9 L931.64,386.55 L933.1,390.12 L936.92,389.59 Z" fill="#747474" stroke="none"/>
<path d="M917.5,417.2 L912.76,431.55 L911.3,427.98 L907.48,428.51 Z" fill="#747474" stroke="none"/>
<text transform="translate(1008.04 261) skewX(-15) scale(0.7375 1)" font-size="30.73" fill="#7c7c7c" stroke="#7c7c7c" stroke-width="0.62">Ф</text>
<text transform="translate(1032.8 257.6) skewX(-15) scale(0.7345 1)" font-size="22.77" fill="#7c7c7c" stroke="#7c7c7c" stroke-width="0.56">8,2</text>
<text transform="translate(1005.2 286.2) skewX(-15) scale(0.7740 1)" font-size="22.77" fill="#7c7c7c" stroke="#7c7c7c" stroke-width="0.56">4 отв.</text>
<line x1="273.8" y1="1045.8" x2="339.5" y2="1045.8" stroke="#8c8c8c" stroke-width="1.25" />
<line x1="339.5" y1="1045.8" x2="457" y2="928.3" stroke="#8c8c8c" stroke-width="1.25" />
<path d="M413.7,971.4 L405.39,984.02 L404.91,980.19 L401.08,979.71 Z" fill="#747474" stroke="none"/>
<path d="M436.7,948.4 L445.01,935.78 L445.49,939.61 L449.32,940.09 Z" fill="#747474" stroke="none"/>
<text transform="translate(279.84 1015.5) skewX(-15) scale(0.7375 1)" font-size="30.73" fill="#7c7c7c" stroke="#7c7c7c" stroke-width="0.62">Ф</text>
<text transform="translate(305.8 1011.8) skewX(-15) scale(0.5867 1)" font-size="22.77" fill="#7c7c7c" stroke="#7c7c7c" stroke-width="0.56">14</text>
<text transform="translate(273.6 1040) skewX(-15) scale(0.8504 1)" font-size="22.77" fill="#7c7c7c" stroke="#7c7c7c" stroke-width="0.56">6 отв</text>
<line x1="1333.6" y1="305.5" x2="1333.6" y2="362" stroke="#8c8c8c" stroke-width="1.25" />
<line x1="1379" y1="305.5" x2="1379" y2="371" stroke="#8c8c8c" stroke-width="1.25" />
<line x1="1304" y1="309.6" x2="1408" y2="309.6" stroke="#8c8c8c" stroke-width="1.25" />
<path d="M1333.6,309.6 L1318.8,312.65 L1321.17,309.6 L1318.8,306.55 Z" fill="#747474" stroke="none"/>
<path d="M1379,309.6 L1393.8,306.55 L1391.43,309.6 L1393.8,312.65 Z" fill="#747474" stroke="none"/>
<text transform="translate(1342 303.7) skewX(-15) scale(0.7765 1)" font-size="22.77" fill="#7c7c7c" stroke="#7c7c7c" stroke-width="0.56">20</text>
<line x1="1333.6" y1="902" x2="1333.6" y2="1041" stroke="#8c8c8c" stroke-width="1.25" />
<line x1="1475.6" y1="1001" x2="1475.6" y2="1041" stroke="#8c8c8c" stroke-width="1.25" />
<line x1="1333.6" y1="1036.8" x2="1475.6" y2="1036.8" stroke="#8c8c8c" stroke-width="1.25" />
<path d="M1333.6,1036.8 L1348.4,1033.75 L1346.03,1036.8 L1348.4,1039.85 Z" fill="#747474" stroke="none"/>
<path d="M1475.6,1036.8 L1460.8,1039.85 L1463.17,1036.8 L1460.8,1033.75 Z" fill="#747474" stroke="none"/>
<text transform="translate(1397.4 1031) skewX(-15) scale(0.7731 1)" font-size="22.77" fill="#7c7c7c" stroke="#7c7c7c" stroke-width="0.56">62</text>
<line x1="1476.5" y1="263.8" x2="1735" y2="263.8" stroke="#8c8c8c" stroke-width="1.25" />
<line x1="1476.5" y1="999.8" x2="1735" y2="999.8" stroke="#8c8c8c" stroke-width="1.25" />
<line x1="1730" y1="263.8" x2="1730" y2="999.8" stroke="#8c8c8c" stroke-width="1.25" />
<path d="M1730,263.8 L1733.05,278.6 L1730,276.23 L1726.95,278.6 Z" fill="#747474" stroke="none"/>
<path d="M1730,999.8 L1726.95,985 L1730,987.37 L1733.05,985 Z" fill="#747474" stroke="none"/>
<text transform="translate(1723.6 673.4) rotate(-90) skewX(-15) scale(0.7592 1)" font-size="22.77" fill="#7c7c7c" stroke="#7c7c7c" stroke-width="0.56">320</text>
</g>
</svg>
</body></html>
